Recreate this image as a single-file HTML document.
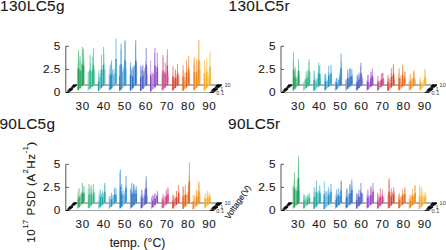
<!DOCTYPE html>
<html><head><meta charset="utf-8"><style>
html,body{margin:0;padding:0;background:#fff;}
body{width:446px;height:250px;overflow:hidden;position:relative;font-family:"Liberation Sans", sans-serif;}
</style></head><body>
<svg width="446" height="250" viewBox="0 0 446 250" style="position:absolute;left:0;top:0">
<style>.t{font-family:"Liberation Sans",sans-serif;fill:#1a1a1a;stroke:#1a1a1a;stroke-width:0.1px;}.v{font-family:"Liberation Sans",sans-serif;fill:#1a1a1a;stroke:#1a1a1a;stroke-width:0.12px;}.s{font-family:"Liberation Sans",sans-serif;fill:#3a3a3a;}</style>
<line x1="73.3" y1="85.0" x2="221.8" y2="85.0" stroke="#666" stroke-width="0.9"/>
<polygon points="77.00,91.30 77.00,63.13 77.50,62.63 77.50,61.50 78.00,61.00 78.00,50.80 78.50,50.30 78.50,50.30 79.00,49.80 79.00,62.21 79.50,61.71 79.50,56.60 80.00,56.10 80.00,56.10 80.50,55.60 80.50,60.62 81.00,60.12 81.00,61.61 81.50,61.11 81.50,62.77 82.00,62.27 82.00,47.30 82.50,46.80 82.50,46.80 83.00,46.30 83.00,49.70 83.50,49.20 83.50,49.20 84.00,48.70 84.00,61.84 84.50,61.34 84.50,83.80" fill="#aee2c4" fill-opacity="0.8" stroke="none"/>
<line x1="77.75" y1="90.55" x2="77.75" y2="69.23" stroke="#27a55c" stroke-width="0.8" stroke-opacity="0.6"/>
<line x1="78.75" y1="89.55" x2="78.75" y2="58.25" stroke="#27a55c" stroke-width="0.8" stroke-opacity="0.6"/>
<line x1="79.75" y1="88.55" x2="79.75" y2="69.34" stroke="#27a55c" stroke-width="0.8" stroke-opacity="0.6"/>
<line x1="80.75" y1="87.55" x2="80.75" y2="71.26" stroke="#27a55c" stroke-width="0.8" stroke-opacity="0.6"/>
<line x1="81.75" y1="86.55" x2="81.75" y2="70.59" stroke="#27a55c" stroke-width="0.8" stroke-opacity="0.6"/>
<line x1="82.75" y1="85.55" x2="82.75" y2="52.50" stroke="#27a55c" stroke-width="0.8" stroke-opacity="0.6"/>
<line x1="83.75" y1="84.55" x2="83.75" y2="58.02" stroke="#27a55c" stroke-width="0.8" stroke-opacity="0.6"/>
<line x1="78.50" y1="89.80" x2="78.50" y2="50.30" stroke="#64c08b" stroke-width="0.7"/>
<line x1="78.50" y1="89.80" x2="78.50" y2="68.07" stroke="#27a55c" stroke-width="1.3"/>
<line x1="80.10" y1="88.20" x2="80.10" y2="56.00" stroke="#64c08b" stroke-width="0.7"/>
<line x1="80.10" y1="88.20" x2="80.10" y2="70.49" stroke="#27a55c" stroke-width="1.3"/>
<line x1="82.30" y1="86.00" x2="82.30" y2="47.00" stroke="#64c08b" stroke-width="0.7"/>
<line x1="82.30" y1="86.00" x2="82.30" y2="64.55" stroke="#27a55c" stroke-width="1.3"/>
<line x1="83.50" y1="84.80" x2="83.50" y2="49.20" stroke="#64c08b" stroke-width="0.7"/>
<line x1="83.50" y1="84.80" x2="83.50" y2="65.22" stroke="#27a55c" stroke-width="1.3"/>
<polygon points="87.55,91.30 87.55,72.78 88.05,72.28 88.05,71.42 88.55,70.92 88.55,72.08 89.05,71.58 89.05,70.38 89.55,69.88 89.55,55.45 90.05,54.95 90.05,54.95 90.55,54.45 90.55,70.00 91.05,69.50 91.05,70.70 91.55,70.20 91.55,72.72 92.05,72.22 92.05,57.35 92.55,56.85 92.55,56.85 93.05,56.35 93.05,48.45 93.55,47.95 93.55,47.95 94.05,47.45 94.05,68.34 94.55,67.84 94.55,69.71 95.05,69.21 95.05,83.80" fill="#b2e8d2" fill-opacity="0.8" stroke="none"/>
<line x1="88.30" y1="90.55" x2="88.30" y2="72.32" stroke="#34b888" stroke-width="0.8" stroke-opacity="0.6"/>
<line x1="89.30" y1="89.55" x2="89.30" y2="70.42" stroke="#34b888" stroke-width="0.8" stroke-opacity="0.6"/>
<line x1="90.30" y1="88.55" x2="90.30" y2="62.63" stroke="#34b888" stroke-width="0.8" stroke-opacity="0.6"/>
<line x1="91.30" y1="87.55" x2="91.30" y2="72.63" stroke="#34b888" stroke-width="0.8" stroke-opacity="0.6"/>
<line x1="92.30" y1="86.55" x2="92.30" y2="68.95" stroke="#34b888" stroke-width="0.8" stroke-opacity="0.6"/>
<line x1="93.30" y1="85.55" x2="93.30" y2="53.53" stroke="#34b888" stroke-width="0.8" stroke-opacity="0.6"/>
<line x1="94.30" y1="84.55" x2="94.30" y2="70.27" stroke="#34b888" stroke-width="0.8" stroke-opacity="0.6"/>
<line x1="90.20" y1="88.65" x2="90.20" y2="54.80" stroke="#6dcea9" stroke-width="0.7"/>
<line x1="90.20" y1="88.65" x2="90.20" y2="70.03" stroke="#34b888" stroke-width="1.3"/>
<line x1="92.40" y1="86.45" x2="92.40" y2="57.00" stroke="#6dcea9" stroke-width="0.7"/>
<line x1="92.40" y1="86.45" x2="92.40" y2="70.25" stroke="#34b888" stroke-width="1.3"/>
<line x1="93.50" y1="85.35" x2="93.50" y2="48.00" stroke="#6dcea9" stroke-width="0.7"/>
<line x1="93.50" y1="85.35" x2="93.50" y2="64.81" stroke="#34b888" stroke-width="1.3"/>
<polygon points="98.10,91.30 98.10,69.38 98.60,68.88 98.60,70.24 99.10,69.74 99.10,72.93 99.60,72.43 99.60,71.01 100.10,70.51 100.10,73.51 100.60,73.01 100.60,72.15 101.10,71.65 101.10,55.10 101.60,54.60 101.60,54.60 102.10,54.10 102.10,69.41 102.60,68.91 102.60,65.63 103.10,65.13 103.10,47.50 103.60,47.00 103.60,47.00 104.10,46.50 104.10,70.69 104.60,70.19 104.60,63.62 105.10,63.12 105.10,69.56 105.60,69.06 105.60,83.80" fill="#ace2e2" fill-opacity="0.8" stroke="none"/>
<line x1="98.85" y1="90.55" x2="98.85" y2="77.27" stroke="#26a6a6" stroke-width="0.8" stroke-opacity="0.6"/>
<line x1="99.85" y1="89.55" x2="99.85" y2="77.14" stroke="#26a6a6" stroke-width="0.8" stroke-opacity="0.6"/>
<line x1="100.85" y1="88.55" x2="100.85" y2="77.08" stroke="#26a6a6" stroke-width="0.8" stroke-opacity="0.6"/>
<line x1="101.85" y1="87.55" x2="101.85" y2="65.42" stroke="#26a6a6" stroke-width="0.8" stroke-opacity="0.6"/>
<line x1="102.85" y1="86.55" x2="102.85" y2="69.91" stroke="#26a6a6" stroke-width="0.8" stroke-opacity="0.6"/>
<line x1="103.85" y1="85.55" x2="103.85" y2="54.12" stroke="#26a6a6" stroke-width="0.8" stroke-opacity="0.6"/>
<line x1="104.85" y1="84.55" x2="104.85" y2="69.89" stroke="#26a6a6" stroke-width="0.8" stroke-opacity="0.6"/>
<line x1="98.50" y1="90.90" x2="98.50" y2="73.90" stroke="#62c1c1" stroke-width="0.7"/>
<line x1="98.50" y1="90.90" x2="98.50" y2="81.55" stroke="#26a6a6" stroke-width="1.3"/>
<line x1="101.40" y1="88.00" x2="101.40" y2="54.80" stroke="#62c1c1" stroke-width="0.7"/>
<line x1="101.40" y1="88.00" x2="101.40" y2="69.74" stroke="#26a6a6" stroke-width="1.3"/>
<line x1="103.60" y1="85.80" x2="103.60" y2="47.00" stroke="#62c1c1" stroke-width="0.7"/>
<line x1="103.60" y1="85.80" x2="103.60" y2="64.46" stroke="#26a6a6" stroke-width="1.3"/>
<polygon points="108.65,91.30 108.65,69.73 109.15,69.23 109.15,67.90 109.65,67.40 109.65,64.98 110.15,64.48 110.15,65.25 110.65,64.75 110.65,64.75 111.15,64.25 111.15,60.75 111.65,60.25 111.65,60.25 112.15,59.75 112.15,67.79 112.65,67.29 112.65,69.23 113.15,68.73 113.15,69.44 113.65,68.94 113.65,69.41 114.15,68.91 114.15,68.71 114.65,68.21 114.65,68.05 115.15,67.55 115.15,69.75 115.65,69.25 115.65,38.85 116.15,38.35 116.15,83.80" fill="#acdaf2" fill-opacity="0.8" stroke="none"/>
<line x1="109.40" y1="90.55" x2="109.40" y2="73.79" stroke="#2896c6" stroke-width="0.8" stroke-opacity="0.6"/>
<line x1="110.40" y1="89.55" x2="110.40" y2="75.12" stroke="#2896c6" stroke-width="0.8" stroke-opacity="0.6"/>
<line x1="111.40" y1="88.55" x2="111.40" y2="62.23" stroke="#2896c6" stroke-width="0.8" stroke-opacity="0.6"/>
<line x1="112.40" y1="87.55" x2="112.40" y2="70.67" stroke="#2896c6" stroke-width="0.8" stroke-opacity="0.6"/>
<line x1="113.40" y1="86.55" x2="113.40" y2="75.24" stroke="#2896c6" stroke-width="0.8" stroke-opacity="0.6"/>
<line x1="114.40" y1="85.55" x2="114.40" y2="73.64" stroke="#2896c6" stroke-width="0.8" stroke-opacity="0.6"/>
<line x1="115.40" y1="84.55" x2="115.40" y2="73.35" stroke="#2896c6" stroke-width="0.8" stroke-opacity="0.6"/>
<line x1="110.40" y1="89.55" x2="110.40" y2="65.00" stroke="#63b5da" stroke-width="0.7"/>
<line x1="110.40" y1="89.55" x2="110.40" y2="76.05" stroke="#2896c6" stroke-width="1.3"/>
<line x1="111.50" y1="88.45" x2="111.50" y2="60.40" stroke="#63b5da" stroke-width="0.7"/>
<line x1="111.50" y1="88.45" x2="111.50" y2="73.02" stroke="#2896c6" stroke-width="1.3"/>
<line x1="116.00" y1="83.95" x2="116.00" y2="38.50" stroke="#63b5da" stroke-width="0.7"/>
<line x1="116.00" y1="83.95" x2="116.00" y2="58.95" stroke="#2896c6" stroke-width="1.3"/>
<polygon points="119.20,91.30 119.20,65.60 119.70,65.10 119.70,65.10 120.20,64.60 120.20,64.78 120.70,64.28 120.70,44.00 121.20,43.50 121.20,43.50 121.70,43.00 121.70,64.62 122.20,64.12 122.20,68.94 122.70,68.44 122.70,65.00 123.20,64.50 123.20,67.11 123.70,66.61 123.70,67.03 124.20,66.53 124.20,59.95 124.70,59.45 124.70,40.50 125.20,40.00 125.20,40.00 125.70,39.50 125.70,68.41 126.20,67.91 126.20,61.31 126.70,60.81 126.70,83.80" fill="#acd2f2" fill-opacity="0.8" stroke="none"/>
<line x1="119.95" y1="90.55" x2="119.95" y2="70.02" stroke="#2a86c6" stroke-width="0.8" stroke-opacity="0.6"/>
<line x1="120.95" y1="89.55" x2="120.95" y2="49.05" stroke="#2a86c6" stroke-width="0.8" stroke-opacity="0.6"/>
<line x1="121.95" y1="88.55" x2="121.95" y2="71.24" stroke="#2a86c6" stroke-width="0.8" stroke-opacity="0.6"/>
<line x1="122.95" y1="87.55" x2="122.95" y2="72.21" stroke="#2a86c6" stroke-width="0.8" stroke-opacity="0.6"/>
<line x1="123.95" y1="86.55" x2="123.95" y2="68.21" stroke="#2a86c6" stroke-width="0.8" stroke-opacity="0.6"/>
<line x1="124.95" y1="85.55" x2="124.95" y2="41.66" stroke="#2a86c6" stroke-width="0.8" stroke-opacity="0.6"/>
<line x1="125.95" y1="84.55" x2="125.95" y2="68.87" stroke="#2a86c6" stroke-width="0.8" stroke-opacity="0.6"/>
<line x1="119.80" y1="90.70" x2="119.80" y2="65.00" stroke="#64a8da" stroke-width="0.7"/>
<line x1="119.80" y1="90.70" x2="119.80" y2="76.56" stroke="#2a86c6" stroke-width="1.3"/>
<line x1="121.10" y1="89.40" x2="121.10" y2="43.60" stroke="#64a8da" stroke-width="0.7"/>
<line x1="121.10" y1="89.40" x2="121.10" y2="64.21" stroke="#2a86c6" stroke-width="1.3"/>
<line x1="125.00" y1="85.50" x2="125.00" y2="40.20" stroke="#64a8da" stroke-width="0.7"/>
<line x1="125.00" y1="85.50" x2="125.00" y2="60.59" stroke="#2a86c6" stroke-width="1.3"/>
<polygon points="129.75,91.30 129.75,63.45 130.25,62.95 130.25,62.95 130.75,62.45 130.75,62.45 131.25,61.95 131.25,68.62 131.75,68.12 131.75,69.61 132.25,69.11 132.25,67.55 132.75,67.05 132.75,66.29 133.25,65.79 133.25,64.97 133.75,64.47 133.75,65.06 134.25,64.56 134.25,64.97 134.75,64.47 134.75,68.65 135.25,68.15 135.25,40.65 135.75,40.15 135.75,40.15 136.25,39.65 136.25,59.81 136.75,59.31 136.75,65.55 137.25,65.05 137.25,83.80" fill="#b2cef2" fill-opacity="0.8" stroke="none"/>
<line x1="130.50" y1="90.55" x2="130.50" y2="66.98" stroke="#2e76c0" stroke-width="0.8" stroke-opacity="0.6"/>
<line x1="131.50" y1="89.55" x2="131.50" y2="70.08" stroke="#2e76c0" stroke-width="0.8" stroke-opacity="0.6"/>
<line x1="132.50" y1="88.55" x2="132.50" y2="75.44" stroke="#2e76c0" stroke-width="0.8" stroke-opacity="0.6"/>
<line x1="133.50" y1="87.55" x2="133.50" y2="67.98" stroke="#2e76c0" stroke-width="0.8" stroke-opacity="0.6"/>
<line x1="134.50" y1="86.55" x2="134.50" y2="65.51" stroke="#2e76c0" stroke-width="0.8" stroke-opacity="0.6"/>
<line x1="135.50" y1="85.55" x2="135.50" y2="45.55" stroke="#2e76c0" stroke-width="0.8" stroke-opacity="0.6"/>
<line x1="136.50" y1="84.55" x2="136.50" y2="62.28" stroke="#2e76c0" stroke-width="0.8" stroke-opacity="0.6"/>
<line x1="130.50" y1="90.55" x2="130.50" y2="62.70" stroke="#699ed6" stroke-width="0.7"/>
<line x1="130.50" y1="90.55" x2="130.50" y2="75.23" stroke="#2e76c0" stroke-width="1.3"/>
<line x1="132.80" y1="88.25" x2="132.80" y2="67.00" stroke="#699ed6" stroke-width="0.7"/>
<line x1="132.80" y1="88.25" x2="132.80" y2="76.56" stroke="#2e76c0" stroke-width="1.3"/>
<line x1="135.70" y1="85.35" x2="135.70" y2="40.20" stroke="#699ed6" stroke-width="0.7"/>
<line x1="135.70" y1="85.35" x2="135.70" y2="60.52" stroke="#2e76c0" stroke-width="1.3"/>
<polygon points="140.30,91.30 140.30,66.30 140.80,65.80 140.80,65.80 141.30,65.30 141.30,67.80 141.80,67.30 141.80,66.89 142.30,66.39 142.30,65.60 142.80,65.10 142.80,65.10 143.30,64.60 143.30,70.90 143.80,70.40 143.80,70.99 144.30,70.49 144.30,67.72 144.80,67.22 144.80,67.18 145.30,66.68 145.30,66.85 145.80,66.35 145.80,48.40 146.30,47.90 146.30,47.90 146.80,47.40 146.80,71.10 147.30,70.60 147.30,66.90 147.80,66.40 147.80,83.80" fill="#c4c6f2" fill-opacity="0.8" stroke="none"/>
<line x1="141.05" y1="90.55" x2="141.05" y2="70.62" stroke="#4e5ec0" stroke-width="0.8" stroke-opacity="0.6"/>
<line x1="142.05" y1="89.55" x2="142.05" y2="67.29" stroke="#4e5ec0" stroke-width="0.8" stroke-opacity="0.6"/>
<line x1="143.05" y1="88.55" x2="143.05" y2="70.53" stroke="#4e5ec0" stroke-width="0.8" stroke-opacity="0.6"/>
<line x1="144.05" y1="87.55" x2="144.05" y2="71.37" stroke="#4e5ec0" stroke-width="0.8" stroke-opacity="0.6"/>
<line x1="145.05" y1="86.55" x2="145.05" y2="68.22" stroke="#4e5ec0" stroke-width="0.8" stroke-opacity="0.6"/>
<line x1="146.05" y1="85.55" x2="146.05" y2="61.06" stroke="#4e5ec0" stroke-width="0.8" stroke-opacity="0.6"/>
<line x1="147.05" y1="84.55" x2="147.05" y2="74.85" stroke="#4e5ec0" stroke-width="0.8" stroke-opacity="0.6"/>
<line x1="140.60" y1="91.00" x2="140.60" y2="66.00" stroke="#838dd6" stroke-width="0.7"/>
<line x1="140.60" y1="91.00" x2="140.60" y2="77.25" stroke="#4e5ec0" stroke-width="1.3"/>
<line x1="142.90" y1="88.70" x2="142.90" y2="65.00" stroke="#838dd6" stroke-width="0.7"/>
<line x1="142.90" y1="88.70" x2="142.90" y2="75.67" stroke="#4e5ec0" stroke-width="1.3"/>
<line x1="146.20" y1="85.40" x2="146.20" y2="48.00" stroke="#838dd6" stroke-width="0.7"/>
<line x1="146.20" y1="85.40" x2="146.20" y2="64.83" stroke="#4e5ec0" stroke-width="1.3"/>
<polygon points="150.85,91.30 150.85,72.89 151.35,72.39 151.35,71.42 151.85,70.92 151.85,72.25 152.35,71.75 152.35,69.80 152.85,69.30 152.85,72.58 153.35,72.08 153.35,71.67 153.85,71.17 153.85,69.83 154.35,69.33 154.35,48.65 154.85,48.15 154.85,48.15 155.35,47.65 155.35,70.52 155.85,70.02 155.85,71.20 156.35,70.70 156.35,69.28 156.85,68.78 156.85,53.05 157.35,52.55 157.35,52.55 157.85,52.05 157.85,70.62 158.35,70.12 158.35,83.80" fill="#dec4f2" fill-opacity="0.8" stroke="none"/>
<line x1="151.60" y1="90.55" x2="151.60" y2="76.55" stroke="#9046c8" stroke-width="0.8" stroke-opacity="0.6"/>
<line x1="152.60" y1="89.55" x2="152.60" y2="73.49" stroke="#9046c8" stroke-width="0.8" stroke-opacity="0.6"/>
<line x1="153.60" y1="88.55" x2="153.60" y2="74.40" stroke="#9046c8" stroke-width="0.8" stroke-opacity="0.6"/>
<line x1="154.60" y1="87.55" x2="154.60" y2="52.70" stroke="#9046c8" stroke-width="0.8" stroke-opacity="0.6"/>
<line x1="155.60" y1="86.55" x2="155.60" y2="76.19" stroke="#9046c8" stroke-width="0.8" stroke-opacity="0.6"/>
<line x1="156.60" y1="85.55" x2="156.60" y2="71.83" stroke="#9046c8" stroke-width="0.8" stroke-opacity="0.6"/>
<line x1="157.60" y1="84.55" x2="157.60" y2="62.83" stroke="#9046c8" stroke-width="0.8" stroke-opacity="0.6"/>
<line x1="150.60" y1="91.55" x2="150.60" y2="60.40" stroke="#b37fdb" stroke-width="0.7"/>
<line x1="150.60" y1="91.55" x2="150.60" y2="74.42" stroke="#9046c8" stroke-width="1.3"/>
<line x1="155.00" y1="87.15" x2="155.00" y2="48.00" stroke="#b37fdb" stroke-width="0.7"/>
<line x1="155.00" y1="87.15" x2="155.00" y2="65.62" stroke="#9046c8" stroke-width="1.3"/>
<line x1="157.30" y1="84.85" x2="157.30" y2="52.60" stroke="#b37fdb" stroke-width="0.7"/>
<line x1="157.30" y1="84.85" x2="157.30" y2="67.11" stroke="#9046c8" stroke-width="1.3"/>
<polygon points="161.40,91.30 161.40,72.97 161.90,72.47 161.90,71.81 162.40,71.31 162.40,55.40 162.90,54.90 162.90,54.90 163.40,54.40 163.40,72.13 163.90,71.63 163.90,71.79 164.40,71.29 164.40,71.68 164.90,71.18 164.90,63.00 165.40,62.50 165.40,62.50 165.90,62.00 165.90,69.97 166.40,69.47 166.40,67.21 166.90,66.71 166.90,49.70 167.40,49.20 167.40,49.20 167.90,48.70 167.90,72.14 168.40,71.64 168.40,73.15 168.90,72.65 168.90,83.80" fill="#f2c4d6" fill-opacity="0.8" stroke="none"/>
<line x1="162.15" y1="90.55" x2="162.15" y2="74.04" stroke="#c84686" stroke-width="0.8" stroke-opacity="0.6"/>
<line x1="163.15" y1="89.55" x2="163.15" y2="58.37" stroke="#c84686" stroke-width="0.8" stroke-opacity="0.6"/>
<line x1="164.15" y1="88.55" x2="164.15" y2="72.00" stroke="#c84686" stroke-width="0.8" stroke-opacity="0.6"/>
<line x1="165.15" y1="87.55" x2="165.15" y2="71.64" stroke="#c84686" stroke-width="0.8" stroke-opacity="0.6"/>
<line x1="166.15" y1="86.55" x2="166.15" y2="71.47" stroke="#c84686" stroke-width="0.8" stroke-opacity="0.6"/>
<line x1="167.15" y1="85.55" x2="167.15" y2="55.18" stroke="#c84686" stroke-width="0.8" stroke-opacity="0.6"/>
<line x1="168.15" y1="84.55" x2="168.15" y2="76.13" stroke="#c84686" stroke-width="0.8" stroke-opacity="0.6"/>
<line x1="163.00" y1="89.70" x2="163.00" y2="54.80" stroke="#db7faa" stroke-width="0.7"/>
<line x1="163.00" y1="89.70" x2="163.00" y2="70.50" stroke="#c84686" stroke-width="1.3"/>
<line x1="165.20" y1="87.50" x2="165.20" y2="62.70" stroke="#db7faa" stroke-width="0.7"/>
<line x1="165.20" y1="87.50" x2="165.20" y2="73.86" stroke="#c84686" stroke-width="1.3"/>
<line x1="167.40" y1="85.30" x2="167.40" y2="49.20" stroke="#db7faa" stroke-width="0.7"/>
<line x1="167.40" y1="85.30" x2="167.40" y2="65.44" stroke="#c84686" stroke-width="1.3"/>
<polygon points="171.95,91.30 171.95,74.34 172.45,73.84 172.45,66.55 172.95,66.05 172.95,66.05 173.45,65.55 173.45,76.76 173.95,76.26 173.95,73.80 174.45,73.30 174.45,76.59 174.95,76.09 174.95,69.75 175.45,69.25 175.45,69.25 175.95,68.75 175.95,77.16 176.45,76.66 176.45,75.98 176.95,75.48 176.95,64.35 177.45,63.85 177.45,63.85 177.95,63.35 177.95,76.19 178.45,75.69 178.45,73.82 178.95,73.32 178.95,73.89 179.45,73.39 179.45,83.80" fill="#f8c4b4" fill-opacity="0.8" stroke="none"/>
<line x1="172.70" y1="90.55" x2="172.70" y2="75.49" stroke="#d84836" stroke-width="0.8" stroke-opacity="0.6"/>
<line x1="173.70" y1="89.55" x2="173.70" y2="80.20" stroke="#d84836" stroke-width="0.8" stroke-opacity="0.6"/>
<line x1="174.70" y1="88.55" x2="174.70" y2="80.96" stroke="#d84836" stroke-width="0.8" stroke-opacity="0.6"/>
<line x1="175.70" y1="87.55" x2="175.70" y2="70.53" stroke="#d84836" stroke-width="0.8" stroke-opacity="0.6"/>
<line x1="176.70" y1="86.55" x2="176.70" y2="78.64" stroke="#d84836" stroke-width="0.8" stroke-opacity="0.6"/>
<line x1="177.70" y1="85.55" x2="177.70" y2="71.62" stroke="#d84836" stroke-width="0.8" stroke-opacity="0.6"/>
<line x1="178.70" y1="84.55" x2="178.70" y2="75.80" stroke="#d84836" stroke-width="0.8" stroke-opacity="0.6"/>
<line x1="173.00" y1="90.25" x2="173.00" y2="66.00" stroke="#e6806f" stroke-width="0.7"/>
<line x1="173.00" y1="90.25" x2="173.00" y2="76.91" stroke="#d84836" stroke-width="1.3"/>
<line x1="175.30" y1="87.95" x2="175.30" y2="69.40" stroke="#e6806f" stroke-width="0.7"/>
<line x1="175.30" y1="87.95" x2="175.30" y2="77.75" stroke="#d84836" stroke-width="1.3"/>
<line x1="177.50" y1="85.75" x2="177.50" y2="63.80" stroke="#e6806f" stroke-width="0.7"/>
<line x1="177.50" y1="85.75" x2="177.50" y2="73.68" stroke="#d84836" stroke-width="1.3"/>
<polygon points="182.50,91.30 182.50,65.60 183.00,65.10 183.00,65.10 183.50,64.60 183.50,75.46 184.00,74.96 184.00,72.15 184.50,71.65 184.50,73.25 185.00,72.75 185.00,76.30 185.50,75.80 185.50,73.31 186.00,72.81 186.00,60.90 186.50,60.40 186.50,60.40 187.00,59.90 187.00,73.09 187.50,72.59 187.50,70.78 188.00,70.28 188.00,56.70 188.50,56.20 188.50,56.20 189.00,55.70 189.00,68.60 189.50,68.10 189.50,75.41 190.00,74.91 190.00,83.80" fill="#f8cca4" fill-opacity="0.8" stroke="none"/>
<line x1="183.25" y1="90.55" x2="183.25" y2="70.09" stroke="#e66a1e" stroke-width="0.8" stroke-opacity="0.6"/>
<line x1="184.25" y1="89.55" x2="184.25" y2="77.39" stroke="#e66a1e" stroke-width="0.8" stroke-opacity="0.6"/>
<line x1="185.25" y1="88.55" x2="185.25" y2="80.42" stroke="#e66a1e" stroke-width="0.8" stroke-opacity="0.6"/>
<line x1="186.25" y1="87.55" x2="186.25" y2="70.28" stroke="#e66a1e" stroke-width="0.8" stroke-opacity="0.6"/>
<line x1="187.25" y1="86.55" x2="187.25" y2="78.05" stroke="#e66a1e" stroke-width="0.8" stroke-opacity="0.6"/>
<line x1="188.25" y1="85.55" x2="188.25" y2="66.44" stroke="#e66a1e" stroke-width="0.8" stroke-opacity="0.6"/>
<line x1="189.25" y1="84.55" x2="189.25" y2="72.81" stroke="#e66a1e" stroke-width="0.8" stroke-opacity="0.6"/>
<line x1="183.10" y1="90.70" x2="183.10" y2="65.00" stroke="#ee965a" stroke-width="0.7"/>
<line x1="183.10" y1="90.70" x2="183.10" y2="76.56" stroke="#e66a1e" stroke-width="1.3"/>
<line x1="186.50" y1="87.30" x2="186.50" y2="60.40" stroke="#ee965a" stroke-width="0.7"/>
<line x1="186.50" y1="87.30" x2="186.50" y2="72.50" stroke="#e66a1e" stroke-width="1.3"/>
<line x1="188.70" y1="85.10" x2="188.70" y2="56.00" stroke="#ee965a" stroke-width="0.7"/>
<line x1="188.70" y1="85.10" x2="188.70" y2="69.09" stroke="#e66a1e" stroke-width="1.3"/>
<polygon points="193.05,91.30 193.05,72.82 193.55,72.32 193.55,57.75 194.05,57.25 194.05,57.25 194.55,56.75 194.55,56.75 195.05,56.25 195.05,72.61 195.55,72.11 195.55,72.65 196.05,72.15 196.05,59.85 196.55,59.35 196.55,59.35 197.05,58.85 197.05,63.52 197.55,63.02 197.55,62.76 198.05,62.26 198.05,40.95 198.55,40.45 198.55,40.45 199.05,39.95 199.05,39.95 199.55,39.45 199.55,68.78 200.05,68.28 200.05,62.35 200.55,61.85 200.55,83.80" fill="#fad6a4" fill-opacity="0.8" stroke="none"/>
<line x1="193.80" y1="90.55" x2="193.80" y2="63.00" stroke="#f08c1e" stroke-width="0.8" stroke-opacity="0.6"/>
<line x1="194.80" y1="89.55" x2="194.80" y2="65.17" stroke="#f08c1e" stroke-width="0.8" stroke-opacity="0.6"/>
<line x1="195.80" y1="88.55" x2="195.80" y2="76.60" stroke="#f08c1e" stroke-width="0.8" stroke-opacity="0.6"/>
<line x1="196.80" y1="87.55" x2="196.80" y2="70.60" stroke="#f08c1e" stroke-width="0.8" stroke-opacity="0.6"/>
<line x1="197.80" y1="86.55" x2="197.80" y2="71.36" stroke="#f08c1e" stroke-width="0.8" stroke-opacity="0.6"/>
<line x1="198.80" y1="85.55" x2="198.80" y2="58.63" stroke="#f08c1e" stroke-width="0.8" stroke-opacity="0.6"/>
<line x1="199.80" y1="84.55" x2="199.80" y2="69.97" stroke="#f08c1e" stroke-width="0.8" stroke-opacity="0.6"/>
<line x1="194.30" y1="90.05" x2="194.30" y2="57.00" stroke="#f4ad5a" stroke-width="0.7"/>
<line x1="194.30" y1="90.05" x2="194.30" y2="71.87" stroke="#f08c1e" stroke-width="1.3"/>
<line x1="196.60" y1="87.75" x2="196.60" y2="59.30" stroke="#f4ad5a" stroke-width="0.7"/>
<line x1="196.60" y1="87.75" x2="196.60" y2="72.10" stroke="#f08c1e" stroke-width="1.3"/>
<line x1="198.80" y1="85.55" x2="198.80" y2="40.20" stroke="#f4ad5a" stroke-width="0.7"/>
<line x1="198.80" y1="85.55" x2="198.80" y2="60.61" stroke="#f08c1e" stroke-width="1.3"/>
<polygon points="203.60,91.30 203.60,73.07 204.10,72.57 204.10,60.70 204.60,60.20 204.60,60.20 205.10,59.70 205.10,70.00 205.60,69.50 205.60,73.14 206.10,72.64 206.10,58.80 206.60,58.30 206.60,58.30 207.10,57.80 207.10,70.70 207.60,70.20 207.60,69.49 208.10,68.99 208.10,73.13 208.60,72.63 208.60,69.52 209.10,69.02 209.10,72.57 209.60,72.07 209.60,51.90 210.10,51.40 210.10,51.40 210.60,50.90 210.60,71.84 211.10,71.34 211.10,83.80" fill="#fce6ac" fill-opacity="0.8" stroke="none"/>
<line x1="204.35" y1="90.55" x2="204.35" y2="67.02" stroke="#f4ae2c" stroke-width="0.8" stroke-opacity="0.6"/>
<line x1="205.35" y1="89.55" x2="205.35" y2="77.96" stroke="#f4ae2c" stroke-width="0.8" stroke-opacity="0.6"/>
<line x1="206.35" y1="88.55" x2="206.35" y2="68.09" stroke="#f4ae2c" stroke-width="0.8" stroke-opacity="0.6"/>
<line x1="207.35" y1="87.55" x2="207.35" y2="76.83" stroke="#f4ae2c" stroke-width="0.8" stroke-opacity="0.6"/>
<line x1="208.35" y1="86.55" x2="208.35" y2="75.99" stroke="#f4ae2c" stroke-width="0.8" stroke-opacity="0.6"/>
<line x1="209.35" y1="85.55" x2="209.35" y2="77.37" stroke="#f4ae2c" stroke-width="0.8" stroke-opacity="0.6"/>
<line x1="210.35" y1="84.55" x2="210.35" y2="65.21" stroke="#f4ae2c" stroke-width="0.8" stroke-opacity="0.6"/>
<line x1="204.40" y1="90.50" x2="204.40" y2="60.40" stroke="#f8c766" stroke-width="0.7"/>
<line x1="204.40" y1="90.50" x2="204.40" y2="73.95" stroke="#f4ae2c" stroke-width="1.3"/>
<line x1="206.70" y1="88.20" x2="206.70" y2="58.20" stroke="#f8c766" stroke-width="0.7"/>
<line x1="206.70" y1="88.20" x2="206.70" y2="71.70" stroke="#f4ae2c" stroke-width="1.3"/>
<line x1="210.00" y1="84.90" x2="210.00" y2="51.50" stroke="#f8c766" stroke-width="0.7"/>
<line x1="210.00" y1="84.90" x2="210.00" y2="66.53" stroke="#f4ae2c" stroke-width="1.3"/>
<line x1="73.3" y1="85.0" x2="221.8" y2="85.0" stroke="#555" stroke-width="0.8" stroke-opacity="0.2"/>
<line x1="65.8" y1="92.5" x2="214.3" y2="92.5" stroke="#aaa" stroke-width="1"/>
<line x1="65.8" y1="92.5" x2="65.8" y2="46.3" stroke="#555" stroke-width="1"/>
<line x1="65.8" y1="92.5" x2="68.8" y2="92.5" stroke="#555" stroke-width="1"/>
<line x1="65.8" y1="69.4" x2="68.8" y2="69.4" stroke="#555" stroke-width="1"/>
<line x1="65.8" y1="46.3" x2="68.8" y2="46.3" stroke="#555" stroke-width="1"/>
<line x1="65.80" y1="92.50" x2="69.40" y2="92.50" stroke="#000" stroke-width="0.8"/>
<line x1="214.30" y1="92.50" x2="209.50" y2="92.50" stroke="#000" stroke-width="0.8"/>
<line x1="66.93" y1="91.37" x2="70.53" y2="91.37" stroke="#000" stroke-width="0.8"/>
<line x1="215.43" y1="91.37" x2="210.63" y2="91.37" stroke="#000" stroke-width="0.8"/>
<line x1="67.59" y1="90.71" x2="71.19" y2="90.71" stroke="#000" stroke-width="0.8"/>
<line x1="216.09" y1="90.71" x2="211.29" y2="90.71" stroke="#000" stroke-width="0.8"/>
<line x1="68.06" y1="90.24" x2="71.66" y2="90.24" stroke="#000" stroke-width="0.8"/>
<line x1="216.56" y1="90.24" x2="211.76" y2="90.24" stroke="#000" stroke-width="0.8"/>
<line x1="68.42" y1="89.88" x2="72.02" y2="89.88" stroke="#000" stroke-width="0.8"/>
<line x1="216.92" y1="89.88" x2="212.12" y2="89.88" stroke="#000" stroke-width="0.8"/>
<line x1="68.72" y1="89.58" x2="72.32" y2="89.58" stroke="#000" stroke-width="0.8"/>
<line x1="217.22" y1="89.58" x2="212.42" y2="89.58" stroke="#000" stroke-width="0.8"/>
<line x1="68.97" y1="89.33" x2="72.57" y2="89.33" stroke="#000" stroke-width="0.8"/>
<line x1="217.47" y1="89.33" x2="212.67" y2="89.33" stroke="#000" stroke-width="0.8"/>
<line x1="69.19" y1="89.11" x2="72.79" y2="89.11" stroke="#000" stroke-width="0.8"/>
<line x1="217.69" y1="89.11" x2="212.89" y2="89.11" stroke="#000" stroke-width="0.8"/>
<line x1="69.38" y1="88.92" x2="72.98" y2="88.92" stroke="#000" stroke-width="0.8"/>
<line x1="217.88" y1="88.92" x2="213.08" y2="88.92" stroke="#000" stroke-width="0.8"/>
<line x1="69.55" y1="88.75" x2="73.15" y2="88.75" stroke="#000" stroke-width="0.8"/>
<line x1="218.05" y1="88.75" x2="213.25" y2="88.75" stroke="#000" stroke-width="0.8"/>
<line x1="70.68" y1="87.62" x2="74.28" y2="87.62" stroke="#000" stroke-width="0.8"/>
<line x1="219.18" y1="87.62" x2="214.38" y2="87.62" stroke="#000" stroke-width="0.8"/>
<line x1="71.34" y1="86.96" x2="74.94" y2="86.96" stroke="#000" stroke-width="0.8"/>
<line x1="219.84" y1="86.96" x2="215.04" y2="86.96" stroke="#000" stroke-width="0.8"/>
<line x1="71.81" y1="86.49" x2="75.41" y2="86.49" stroke="#000" stroke-width="0.8"/>
<line x1="220.31" y1="86.49" x2="215.51" y2="86.49" stroke="#000" stroke-width="0.8"/>
<line x1="72.17" y1="86.13" x2="75.77" y2="86.13" stroke="#000" stroke-width="0.8"/>
<line x1="220.67" y1="86.13" x2="215.87" y2="86.13" stroke="#000" stroke-width="0.8"/>
<line x1="72.47" y1="85.83" x2="76.07" y2="85.83" stroke="#000" stroke-width="0.8"/>
<line x1="220.97" y1="85.83" x2="216.17" y2="85.83" stroke="#000" stroke-width="0.8"/>
<line x1="72.72" y1="85.58" x2="76.32" y2="85.58" stroke="#000" stroke-width="0.8"/>
<line x1="221.22" y1="85.58" x2="216.42" y2="85.58" stroke="#000" stroke-width="0.8"/>
<line x1="72.94" y1="85.36" x2="76.54" y2="85.36" stroke="#000" stroke-width="0.8"/>
<line x1="221.44" y1="85.36" x2="216.64" y2="85.36" stroke="#000" stroke-width="0.8"/>
<line x1="73.13" y1="85.17" x2="76.73" y2="85.17" stroke="#000" stroke-width="0.8"/>
<line x1="221.63" y1="85.17" x2="216.83" y2="85.17" stroke="#000" stroke-width="0.8"/>
<line x1="73.30" y1="85.00" x2="76.90" y2="85.00" stroke="#000" stroke-width="0.8"/>
<line x1="221.80" y1="85.00" x2="217.00" y2="85.00" stroke="#000" stroke-width="0.8"/>
<text class="t" x="60.699999999999996" y="96.2" text-anchor="end" font-size="11.8" letter-spacing="0.4">0</text>
<text class="t" x="60.699999999999996" y="73.10000000000001" text-anchor="end" font-size="11.8" letter-spacing="0.4">2.5</text>
<text class="t" x="60.699999999999996" y="50.0" text-anchor="end" font-size="11.8" letter-spacing="0.4">5</text>
<text class="t" x="82.7" y="110.0" text-anchor="middle" font-size="11.6" letter-spacing="0.7">30</text>
<text class="t" x="103.8" y="110.0" text-anchor="middle" font-size="11.6" letter-spacing="0.7">40</text>
<text class="t" x="124.9" y="110.0" text-anchor="middle" font-size="11.6" letter-spacing="0.7">50</text>
<text class="t" x="146.0" y="110.0" text-anchor="middle" font-size="11.6" letter-spacing="0.7">60</text>
<text class="t" x="167.1" y="110.0" text-anchor="middle" font-size="11.6" letter-spacing="0.7">70</text>
<text class="t" x="188.2" y="110.0" text-anchor="middle" font-size="11.6" letter-spacing="0.7">80</text>
<text class="t" x="209.3" y="110.0" text-anchor="middle" font-size="11.6" letter-spacing="0.7">90</text>
<text class="s" x="216.30" y="94.90" font-size="5.6">0.1</text>
<text class="s" x="220.35" y="91.00" font-size="5.6">1</text>
<text class="s" x="224.40" y="87.10" font-size="5.6">10</text>
<line x1="288.5" y1="85.0" x2="437.0" y2="85.0" stroke="#666" stroke-width="0.9"/>
<polygon points="292.50,91.30 292.50,78.73 293.00,78.23 293.00,53.10 293.50,52.60 293.50,52.60 294.00,52.10 294.00,71.53 294.50,71.03 294.50,67.50 295.00,67.00 295.00,67.00 295.50,66.50 295.50,77.92 296.00,77.42 296.00,77.03 296.50,76.53 296.50,76.07 297.00,75.57 297.00,75.23 297.50,74.73 297.50,72.97 298.00,72.47 298.00,59.80 298.50,59.30 298.50,59.30 299.00,58.80 299.00,71.25 299.50,70.75 299.50,70.83 300.00,70.33 300.00,83.80" fill="#aee2c4" fill-opacity="0.8" stroke="none"/>
<line x1="293.25" y1="90.55" x2="293.25" y2="60.07" stroke="#27a55c" stroke-width="0.8" stroke-opacity="0.6"/>
<line x1="294.25" y1="89.55" x2="294.25" y2="71.89" stroke="#27a55c" stroke-width="0.8" stroke-opacity="0.6"/>
<line x1="295.25" y1="88.55" x2="295.25" y2="69.62" stroke="#27a55c" stroke-width="0.8" stroke-opacity="0.6"/>
<line x1="296.25" y1="87.55" x2="296.25" y2="77.65" stroke="#27a55c" stroke-width="0.8" stroke-opacity="0.6"/>
<line x1="297.25" y1="86.55" x2="297.25" y2="78.35" stroke="#27a55c" stroke-width="0.8" stroke-opacity="0.6"/>
<line x1="298.25" y1="85.55" x2="298.25" y2="70.25" stroke="#27a55c" stroke-width="0.8" stroke-opacity="0.6"/>
<line x1="299.25" y1="84.55" x2="299.25" y2="75.65" stroke="#27a55c" stroke-width="0.8" stroke-opacity="0.6"/>
<line x1="293.50" y1="90.30" x2="293.50" y2="52.60" stroke="#64c08b" stroke-width="0.7"/>
<line x1="293.50" y1="90.30" x2="293.50" y2="69.56" stroke="#27a55c" stroke-width="1.3"/>
<line x1="295.00" y1="88.80" x2="295.00" y2="67.00" stroke="#64c08b" stroke-width="0.7"/>
<line x1="295.00" y1="88.80" x2="295.00" y2="76.81" stroke="#27a55c" stroke-width="1.3"/>
<line x1="298.50" y1="85.30" x2="298.50" y2="59.30" stroke="#64c08b" stroke-width="0.7"/>
<line x1="298.50" y1="85.30" x2="298.50" y2="71.00" stroke="#27a55c" stroke-width="1.3"/>
<polygon points="303.05,91.30 303.05,80.95 303.55,80.45 303.55,82.23 304.05,81.73 304.05,78.57 304.55,78.07 304.55,79.96 305.05,79.46 305.05,79.62 305.55,79.12 305.55,72.35 306.05,71.85 306.05,71.85 306.55,71.35 306.55,71.35 307.05,70.85 307.05,80.01 307.55,79.51 307.55,69.75 308.05,69.25 308.05,69.25 308.55,68.75 308.55,59.95 309.05,59.45 309.05,59.45 309.55,58.95 309.55,74.70 310.05,74.20 310.05,71.48 310.55,70.98 310.55,83.80" fill="#b2e8d2" fill-opacity="0.8" stroke="none"/>
<line x1="303.80" y1="90.55" x2="303.80" y2="82.76" stroke="#34b888" stroke-width="0.8" stroke-opacity="0.6"/>
<line x1="304.80" y1="89.55" x2="304.80" y2="80.64" stroke="#34b888" stroke-width="0.8" stroke-opacity="0.6"/>
<line x1="305.80" y1="88.55" x2="305.80" y2="78.30" stroke="#34b888" stroke-width="0.8" stroke-opacity="0.6"/>
<line x1="306.80" y1="87.55" x2="306.80" y2="76.80" stroke="#34b888" stroke-width="0.8" stroke-opacity="0.6"/>
<line x1="307.80" y1="86.55" x2="307.80" y2="74.66" stroke="#34b888" stroke-width="0.8" stroke-opacity="0.6"/>
<line x1="308.80" y1="85.55" x2="308.80" y2="62.63" stroke="#34b888" stroke-width="0.8" stroke-opacity="0.6"/>
<line x1="309.80" y1="84.55" x2="309.80" y2="76.96" stroke="#34b888" stroke-width="0.8" stroke-opacity="0.6"/>
<line x1="306.30" y1="88.05" x2="306.30" y2="71.60" stroke="#6dcea9" stroke-width="0.7"/>
<line x1="306.30" y1="88.05" x2="306.30" y2="79.00" stroke="#34b888" stroke-width="1.3"/>
<line x1="307.90" y1="86.45" x2="307.90" y2="69.40" stroke="#6dcea9" stroke-width="0.7"/>
<line x1="307.90" y1="86.45" x2="307.90" y2="77.07" stroke="#34b888" stroke-width="1.3"/>
<line x1="309.20" y1="85.15" x2="309.20" y2="59.30" stroke="#6dcea9" stroke-width="0.7"/>
<line x1="309.20" y1="85.15" x2="309.20" y2="70.93" stroke="#34b888" stroke-width="1.3"/>
<polygon points="313.60,91.30 313.60,71.00 314.10,70.50 314.10,70.50 314.60,70.00 314.60,80.45 315.10,79.95 315.10,77.39 315.60,76.89 315.60,77.37 316.10,76.87 316.10,79.30 316.60,78.80 316.60,78.17 317.10,77.67 317.10,78.43 317.60,77.93 317.60,74.54 318.10,74.04 318.10,63.20 318.60,62.70 318.60,62.70 319.10,62.20 319.10,65.70 319.60,65.20 319.60,65.20 320.10,64.70 320.10,79.11 320.60,78.61 320.60,76.02 321.10,75.52 321.10,83.80" fill="#ace2e2" fill-opacity="0.8" stroke="none"/>
<line x1="314.35" y1="90.55" x2="314.35" y2="73.72" stroke="#26a6a6" stroke-width="0.8" stroke-opacity="0.6"/>
<line x1="315.35" y1="89.55" x2="315.35" y2="81.29" stroke="#26a6a6" stroke-width="0.8" stroke-opacity="0.6"/>
<line x1="316.35" y1="88.55" x2="316.35" y2="80.42" stroke="#26a6a6" stroke-width="0.8" stroke-opacity="0.6"/>
<line x1="317.35" y1="87.55" x2="317.35" y2="77.71" stroke="#26a6a6" stroke-width="0.8" stroke-opacity="0.6"/>
<line x1="318.35" y1="86.55" x2="318.35" y2="71.59" stroke="#26a6a6" stroke-width="0.8" stroke-opacity="0.6"/>
<line x1="319.35" y1="85.55" x2="319.35" y2="66.85" stroke="#26a6a6" stroke-width="0.8" stroke-opacity="0.6"/>
<line x1="320.35" y1="84.55" x2="320.35" y2="79.36" stroke="#26a6a6" stroke-width="0.8" stroke-opacity="0.6"/>
<line x1="314.10" y1="90.80" x2="314.10" y2="70.50" stroke="#62c1c1" stroke-width="0.7"/>
<line x1="314.10" y1="90.80" x2="314.10" y2="79.63" stroke="#26a6a6" stroke-width="1.3"/>
<line x1="318.60" y1="86.30" x2="318.60" y2="62.70" stroke="#62c1c1" stroke-width="0.7"/>
<line x1="318.60" y1="86.30" x2="318.60" y2="73.32" stroke="#26a6a6" stroke-width="1.3"/>
<line x1="319.80" y1="85.10" x2="319.80" y2="65.00" stroke="#62c1c1" stroke-width="0.7"/>
<line x1="319.80" y1="85.10" x2="319.80" y2="74.05" stroke="#26a6a6" stroke-width="1.3"/>
<polygon points="324.15,91.30 324.15,76.82 324.65,76.32 324.65,74.65 325.15,74.15 325.15,74.15 325.65,73.65 325.65,73.65 326.15,73.15 326.15,81.13 326.65,80.63 326.65,78.79 327.15,78.29 327.15,79.74 327.65,79.24 327.65,79.53 328.15,79.03 328.15,66.55 328.65,66.05 328.65,66.05 329.15,65.55 329.15,75.57 329.65,75.07 329.65,74.40 330.15,73.90 330.15,76.74 330.65,76.24 330.65,65.35 331.15,64.85 331.15,64.85 331.65,64.35 331.65,83.80" fill="#acdaf2" fill-opacity="0.8" stroke="none"/>
<line x1="324.90" y1="90.55" x2="324.90" y2="74.08" stroke="#2896c6" stroke-width="0.8" stroke-opacity="0.6"/>
<line x1="325.90" y1="89.55" x2="325.90" y2="75.92" stroke="#2896c6" stroke-width="0.8" stroke-opacity="0.6"/>
<line x1="326.90" y1="88.55" x2="326.90" y2="80.77" stroke="#2896c6" stroke-width="0.8" stroke-opacity="0.6"/>
<line x1="327.90" y1="87.55" x2="327.90" y2="80.72" stroke="#2896c6" stroke-width="0.8" stroke-opacity="0.6"/>
<line x1="328.90" y1="86.55" x2="328.90" y2="72.06" stroke="#2896c6" stroke-width="0.8" stroke-opacity="0.6"/>
<line x1="329.90" y1="85.55" x2="329.90" y2="78.37" stroke="#2896c6" stroke-width="0.8" stroke-opacity="0.6"/>
<line x1="330.90" y1="84.55" x2="330.90" y2="72.35" stroke="#2896c6" stroke-width="0.8" stroke-opacity="0.6"/>
<line x1="325.40" y1="90.05" x2="325.40" y2="73.90" stroke="#63b5da" stroke-width="0.7"/>
<line x1="325.40" y1="90.05" x2="325.40" y2="81.17" stroke="#2896c6" stroke-width="1.3"/>
<line x1="328.70" y1="86.75" x2="328.70" y2="66.00" stroke="#63b5da" stroke-width="0.7"/>
<line x1="328.70" y1="86.75" x2="328.70" y2="75.34" stroke="#2896c6" stroke-width="1.3"/>
<line x1="331.00" y1="84.45" x2="331.00" y2="65.00" stroke="#63b5da" stroke-width="0.7"/>
<line x1="331.00" y1="84.45" x2="331.00" y2="73.75" stroke="#2896c6" stroke-width="1.3"/>
<polygon points="334.70,91.30 334.70,78.58 335.20,78.08 335.20,81.32 335.70,80.82 335.70,81.50 336.20,81.00 336.20,78.80 336.70,78.30 336.70,78.30 337.20,77.80 337.20,80.88 337.70,80.38 337.70,78.33 338.20,77.83 338.20,79.60 338.70,79.10 338.70,78.05 339.20,77.55 339.20,71.54 339.70,71.04 339.70,70.81 340.20,70.31 340.20,73.80 340.70,73.30 340.70,54.00 341.20,53.50 341.20,53.50 341.70,53.00 341.70,73.99 342.20,73.49 342.20,83.80" fill="#acd2f2" fill-opacity="0.8" stroke="none"/>
<line x1="335.45" y1="90.55" x2="335.45" y2="81.52" stroke="#2a86c6" stroke-width="0.8" stroke-opacity="0.6"/>
<line x1="336.45" y1="89.55" x2="336.45" y2="78.08" stroke="#2a86c6" stroke-width="0.8" stroke-opacity="0.6"/>
<line x1="337.45" y1="88.55" x2="337.45" y2="82.59" stroke="#2a86c6" stroke-width="0.8" stroke-opacity="0.6"/>
<line x1="338.45" y1="87.55" x2="338.45" y2="79.91" stroke="#2a86c6" stroke-width="0.8" stroke-opacity="0.6"/>
<line x1="339.45" y1="86.55" x2="339.45" y2="75.52" stroke="#2a86c6" stroke-width="0.8" stroke-opacity="0.6"/>
<line x1="340.45" y1="85.55" x2="340.45" y2="75.35" stroke="#2a86c6" stroke-width="0.8" stroke-opacity="0.6"/>
<line x1="341.45" y1="84.55" x2="341.45" y2="61.55" stroke="#2a86c6" stroke-width="0.8" stroke-opacity="0.6"/>
<line x1="336.60" y1="89.40" x2="336.60" y2="78.40" stroke="#64a8da" stroke-width="0.7"/>
<line x1="336.60" y1="89.40" x2="336.60" y2="83.35" stroke="#2a86c6" stroke-width="1.3"/>
<line x1="340.00" y1="86.00" x2="340.00" y2="74.00" stroke="#64a8da" stroke-width="0.7"/>
<line x1="340.00" y1="86.00" x2="340.00" y2="79.40" stroke="#2a86c6" stroke-width="1.3"/>
<line x1="341.00" y1="85.00" x2="341.00" y2="53.70" stroke="#64a8da" stroke-width="0.7"/>
<line x1="341.00" y1="85.00" x2="341.00" y2="67.78" stroke="#2a86c6" stroke-width="1.3"/>
<polygon points="345.25,91.30 345.25,79.91 345.75,79.41 345.75,79.94 346.25,79.44 346.25,79.71 346.75,79.21 346.75,78.26 347.25,77.76 347.25,69.95 347.75,69.45 347.75,69.45 348.25,68.95 348.25,78.50 348.75,78.00 348.75,80.30 349.25,79.80 349.25,69.05 349.75,68.55 349.75,68.55 350.25,68.05 350.25,68.05 350.75,67.55 350.75,77.00 351.25,76.50 351.25,69.95 351.75,69.45 351.75,69.45 352.25,68.95 352.25,79.75 352.75,79.25 352.75,83.80" fill="#b2cef2" fill-opacity="0.8" stroke="none"/>
<line x1="346.00" y1="90.55" x2="346.00" y2="79.25" stroke="#2e76c0" stroke-width="0.8" stroke-opacity="0.6"/>
<line x1="347.00" y1="89.55" x2="347.00" y2="81.90" stroke="#2e76c0" stroke-width="0.8" stroke-opacity="0.6"/>
<line x1="348.00" y1="88.55" x2="348.00" y2="73.11" stroke="#2e76c0" stroke-width="0.8" stroke-opacity="0.6"/>
<line x1="349.00" y1="87.55" x2="349.00" y2="80.57" stroke="#2e76c0" stroke-width="0.8" stroke-opacity="0.6"/>
<line x1="350.00" y1="86.55" x2="350.00" y2="69.14" stroke="#2e76c0" stroke-width="0.8" stroke-opacity="0.6"/>
<line x1="351.00" y1="85.55" x2="351.00" y2="79.19" stroke="#2e76c0" stroke-width="0.8" stroke-opacity="0.6"/>
<line x1="352.00" y1="84.55" x2="352.00" y2="73.65" stroke="#2e76c0" stroke-width="0.8" stroke-opacity="0.6"/>
<line x1="347.80" y1="88.75" x2="347.80" y2="69.40" stroke="#699ed6" stroke-width="0.7"/>
<line x1="347.80" y1="88.75" x2="347.80" y2="78.11" stroke="#2e76c0" stroke-width="1.3"/>
<line x1="350.00" y1="86.55" x2="350.00" y2="68.30" stroke="#699ed6" stroke-width="0.7"/>
<line x1="350.00" y1="86.55" x2="350.00" y2="76.51" stroke="#2e76c0" stroke-width="1.3"/>
<line x1="351.80" y1="84.75" x2="351.80" y2="69.40" stroke="#699ed6" stroke-width="0.7"/>
<line x1="351.80" y1="84.75" x2="351.80" y2="76.31" stroke="#2e76c0" stroke-width="1.3"/>
<polygon points="355.80,91.30 355.80,80.51 356.30,80.01 356.30,79.52 356.80,79.02 356.80,75.40 357.30,74.90 357.30,74.90 357.80,74.40 357.80,81.20 358.30,80.70 358.30,73.50 358.80,73.00 358.80,73.00 359.30,72.50 359.30,75.74 359.80,75.24 359.80,77.47 360.30,76.97 360.30,63.40 360.80,62.90 360.80,62.90 361.30,62.40 361.30,72.74 361.80,72.24 361.80,74.78 362.30,74.28 362.30,75.91 362.80,75.41 362.80,78.99 363.30,78.49 363.30,83.80" fill="#c4c6f2" fill-opacity="0.8" stroke="none"/>
<line x1="356.55" y1="90.55" x2="356.55" y2="83.49" stroke="#4e5ec0" stroke-width="0.8" stroke-opacity="0.6"/>
<line x1="357.55" y1="89.55" x2="357.55" y2="75.66" stroke="#4e5ec0" stroke-width="0.8" stroke-opacity="0.6"/>
<line x1="358.55" y1="88.55" x2="358.55" y2="77.94" stroke="#4e5ec0" stroke-width="0.8" stroke-opacity="0.6"/>
<line x1="359.55" y1="87.55" x2="359.55" y2="75.38" stroke="#4e5ec0" stroke-width="0.8" stroke-opacity="0.6"/>
<line x1="360.55" y1="86.55" x2="360.55" y2="66.67" stroke="#4e5ec0" stroke-width="0.8" stroke-opacity="0.6"/>
<line x1="361.55" y1="85.55" x2="361.55" y2="75.98" stroke="#4e5ec0" stroke-width="0.8" stroke-opacity="0.6"/>
<line x1="362.55" y1="84.55" x2="362.55" y2="78.49" stroke="#4e5ec0" stroke-width="0.8" stroke-opacity="0.6"/>
<line x1="357.20" y1="89.90" x2="357.20" y2="75.00" stroke="#838dd6" stroke-width="0.7"/>
<line x1="357.20" y1="89.90" x2="357.20" y2="81.71" stroke="#4e5ec0" stroke-width="1.3"/>
<line x1="359.00" y1="88.10" x2="359.00" y2="72.80" stroke="#838dd6" stroke-width="0.7"/>
<line x1="359.00" y1="88.10" x2="359.00" y2="79.69" stroke="#4e5ec0" stroke-width="1.3"/>
<line x1="361.00" y1="86.10" x2="361.00" y2="62.70" stroke="#838dd6" stroke-width="0.7"/>
<line x1="361.00" y1="86.10" x2="361.00" y2="73.23" stroke="#4e5ec0" stroke-width="1.3"/>
<polygon points="366.35,91.30 366.35,81.49 366.85,80.99 366.85,79.26 367.35,78.76 367.35,75.45 367.85,74.95 367.85,74.95 368.35,74.45 368.35,79.84 368.85,79.34 368.85,81.63 369.35,81.13 369.35,82.70 369.85,82.20 369.85,79.37 370.35,78.87 370.35,72.05 370.85,71.55 370.85,71.55 371.35,71.05 371.35,76.80 371.85,76.30 371.85,68.75 372.35,68.25 372.35,68.25 372.85,67.75 372.85,77.13 373.35,76.63 373.35,79.29 373.85,78.79 373.85,83.80" fill="#dec4f2" fill-opacity="0.8" stroke="none"/>
<line x1="367.10" y1="90.55" x2="367.10" y2="80.14" stroke="#9046c8" stroke-width="0.8" stroke-opacity="0.6"/>
<line x1="368.10" y1="89.55" x2="368.10" y2="74.78" stroke="#9046c8" stroke-width="0.8" stroke-opacity="0.6"/>
<line x1="369.10" y1="88.55" x2="369.10" y2="83.19" stroke="#9046c8" stroke-width="0.8" stroke-opacity="0.6"/>
<line x1="370.10" y1="87.55" x2="370.10" y2="82.12" stroke="#9046c8" stroke-width="0.8" stroke-opacity="0.6"/>
<line x1="371.10" y1="86.55" x2="371.10" y2="75.28" stroke="#9046c8" stroke-width="0.8" stroke-opacity="0.6"/>
<line x1="372.10" y1="85.55" x2="372.10" y2="72.44" stroke="#9046c8" stroke-width="0.8" stroke-opacity="0.6"/>
<line x1="373.10" y1="84.55" x2="373.10" y2="77.25" stroke="#9046c8" stroke-width="0.8" stroke-opacity="0.6"/>
<line x1="367.80" y1="89.85" x2="367.80" y2="75.00" stroke="#b37fdb" stroke-width="0.7"/>
<line x1="367.80" y1="89.85" x2="367.80" y2="81.68" stroke="#9046c8" stroke-width="1.3"/>
<line x1="370.80" y1="86.85" x2="370.80" y2="71.60" stroke="#b37fdb" stroke-width="0.7"/>
<line x1="370.80" y1="86.85" x2="370.80" y2="78.46" stroke="#9046c8" stroke-width="1.3"/>
<line x1="372.30" y1="85.35" x2="372.30" y2="68.30" stroke="#b37fdb" stroke-width="0.7"/>
<line x1="372.30" y1="85.35" x2="372.30" y2="75.97" stroke="#9046c8" stroke-width="1.3"/>
<polygon points="376.90,91.30 376.90,81.76 377.40,81.26 377.40,76.50 377.90,76.00 377.90,76.00 378.40,75.50 378.40,81.72 378.90,81.22 378.90,81.19 379.40,80.69 379.40,81.60 379.90,81.10 379.90,81.64 380.40,81.14 380.40,80.72 380.90,80.22 380.90,74.30 381.40,73.80 381.40,73.80 381.90,73.30 381.90,79.53 382.40,79.03 382.40,73.30 382.90,72.80 382.90,72.80 383.40,72.30 383.40,77.88 383.90,77.38 383.90,81.79 384.40,81.29 384.40,83.80" fill="#f2c4d6" fill-opacity="0.8" stroke="none"/>
<line x1="377.65" y1="90.55" x2="377.65" y2="79.59" stroke="#c84686" stroke-width="0.8" stroke-opacity="0.6"/>
<line x1="378.65" y1="89.55" x2="378.65" y2="81.12" stroke="#c84686" stroke-width="0.8" stroke-opacity="0.6"/>
<line x1="379.65" y1="88.55" x2="379.65" y2="80.96" stroke="#c84686" stroke-width="0.8" stroke-opacity="0.6"/>
<line x1="380.65" y1="87.55" x2="380.65" y2="80.57" stroke="#c84686" stroke-width="0.8" stroke-opacity="0.6"/>
<line x1="381.65" y1="86.55" x2="381.65" y2="73.07" stroke="#c84686" stroke-width="0.8" stroke-opacity="0.6"/>
<line x1="382.65" y1="85.55" x2="382.65" y2="72.91" stroke="#c84686" stroke-width="0.8" stroke-opacity="0.6"/>
<line x1="383.65" y1="84.55" x2="383.65" y2="79.01" stroke="#c84686" stroke-width="0.8" stroke-opacity="0.6"/>
<line x1="377.90" y1="90.30" x2="377.90" y2="76.00" stroke="#db7faa" stroke-width="0.7"/>
<line x1="377.90" y1="90.30" x2="377.90" y2="82.44" stroke="#c84686" stroke-width="1.3"/>
<line x1="381.30" y1="86.90" x2="381.30" y2="73.90" stroke="#db7faa" stroke-width="0.7"/>
<line x1="381.30" y1="86.90" x2="381.30" y2="79.75" stroke="#c84686" stroke-width="1.3"/>
<line x1="382.90" y1="85.30" x2="382.90" y2="72.80" stroke="#db7faa" stroke-width="0.7"/>
<line x1="382.90" y1="85.30" x2="382.90" y2="78.42" stroke="#c84686" stroke-width="1.3"/>
<polygon points="387.45,91.30 387.45,75.55 387.95,75.05 387.95,75.05 388.45,74.55 388.45,78.02 388.95,77.52 388.95,78.43 389.45,77.93 389.45,79.88 389.95,79.38 389.95,80.09 390.45,79.59 390.45,81.74 390.95,81.24 390.95,68.75 391.45,68.25 391.45,68.25 391.95,67.75 391.95,76.10 392.45,75.60 392.45,75.37 392.95,74.87 392.95,64.45 393.45,63.95 393.45,63.95 393.95,63.45 393.95,77.42 394.45,76.92 394.45,77.15 394.95,76.65 394.95,83.80" fill="#f8c4b4" fill-opacity="0.8" stroke="none"/>
<line x1="388.20" y1="90.55" x2="388.20" y2="78.76" stroke="#d84836" stroke-width="0.8" stroke-opacity="0.6"/>
<line x1="389.20" y1="89.55" x2="389.20" y2="78.12" stroke="#d84836" stroke-width="0.8" stroke-opacity="0.6"/>
<line x1="390.20" y1="88.55" x2="390.20" y2="82.98" stroke="#d84836" stroke-width="0.8" stroke-opacity="0.6"/>
<line x1="391.20" y1="87.55" x2="391.20" y2="73.09" stroke="#d84836" stroke-width="0.8" stroke-opacity="0.6"/>
<line x1="392.20" y1="86.55" x2="392.20" y2="76.14" stroke="#d84836" stroke-width="0.8" stroke-opacity="0.6"/>
<line x1="393.20" y1="85.55" x2="393.20" y2="66.23" stroke="#d84836" stroke-width="0.8" stroke-opacity="0.6"/>
<line x1="394.20" y1="84.55" x2="394.20" y2="79.69" stroke="#d84836" stroke-width="0.8" stroke-opacity="0.6"/>
<line x1="388.00" y1="90.75" x2="388.00" y2="75.00" stroke="#e6806f" stroke-width="0.7"/>
<line x1="388.00" y1="90.75" x2="388.00" y2="82.09" stroke="#d84836" stroke-width="1.3"/>
<line x1="391.40" y1="87.35" x2="391.40" y2="68.30" stroke="#e6806f" stroke-width="0.7"/>
<line x1="391.40" y1="87.35" x2="391.40" y2="76.87" stroke="#d84836" stroke-width="1.3"/>
<line x1="393.60" y1="85.15" x2="393.60" y2="63.80" stroke="#e6806f" stroke-width="0.7"/>
<line x1="393.60" y1="85.15" x2="393.60" y2="73.41" stroke="#d84836" stroke-width="1.3"/>
<polygon points="398.00,91.30 398.00,80.58 398.50,80.08 398.50,69.00 399.00,68.50 399.00,68.50 399.50,68.00 399.50,77.01 400.00,76.51 400.00,79.05 400.50,78.55 400.50,75.96 401.00,75.46 401.00,78.03 401.50,77.53 401.50,79.17 402.00,78.67 402.00,65.60 402.50,65.10 402.50,65.10 403.00,64.60 403.00,76.17 403.50,75.67 403.50,79.40 404.00,78.90 404.00,75.97 404.50,75.47 404.50,71.90 405.00,71.40 405.00,71.40 405.50,70.90 405.50,83.80" fill="#f8cca4" fill-opacity="0.8" stroke="none"/>
<line x1="398.75" y1="90.55" x2="398.75" y2="73.94" stroke="#e66a1e" stroke-width="0.8" stroke-opacity="0.6"/>
<line x1="399.75" y1="89.55" x2="399.75" y2="79.10" stroke="#e66a1e" stroke-width="0.8" stroke-opacity="0.6"/>
<line x1="400.75" y1="88.55" x2="400.75" y2="75.62" stroke="#e66a1e" stroke-width="0.8" stroke-opacity="0.6"/>
<line x1="401.75" y1="87.55" x2="401.75" y2="81.42" stroke="#e66a1e" stroke-width="0.8" stroke-opacity="0.6"/>
<line x1="402.75" y1="86.55" x2="402.75" y2="66.60" stroke="#e66a1e" stroke-width="0.8" stroke-opacity="0.6"/>
<line x1="403.75" y1="85.55" x2="403.75" y2="79.13" stroke="#e66a1e" stroke-width="0.8" stroke-opacity="0.6"/>
<line x1="404.75" y1="84.55" x2="404.75" y2="72.15" stroke="#e66a1e" stroke-width="0.8" stroke-opacity="0.6"/>
<line x1="399.20" y1="90.10" x2="399.20" y2="68.30" stroke="#ee965a" stroke-width="0.7"/>
<line x1="399.20" y1="90.10" x2="399.20" y2="78.11" stroke="#e66a1e" stroke-width="1.3"/>
<line x1="402.60" y1="86.70" x2="402.60" y2="65.00" stroke="#ee965a" stroke-width="0.7"/>
<line x1="402.60" y1="86.70" x2="402.60" y2="74.76" stroke="#e66a1e" stroke-width="1.3"/>
<line x1="404.80" y1="84.50" x2="404.80" y2="71.60" stroke="#ee965a" stroke-width="0.7"/>
<line x1="404.80" y1="84.50" x2="404.80" y2="77.40" stroke="#e66a1e" stroke-width="1.3"/>
<polygon points="408.55,91.30 408.55,77.89 409.05,77.39 409.05,80.11 409.55,79.61 409.55,79.94 410.05,79.44 410.05,74.35 410.55,73.85 410.55,73.85 411.05,73.35 411.05,77.99 411.55,77.49 411.55,81.43 412.05,80.93 412.05,78.99 412.55,78.49 412.55,76.85 413.05,76.35 413.05,71.25 413.55,70.75 413.55,70.75 414.05,70.25 414.05,70.25 414.55,69.75 414.55,79.39 415.05,78.89 415.05,78.20 415.55,77.70 415.55,80.58 416.05,80.08 416.05,83.80" fill="#fad6a4" fill-opacity="0.8" stroke="none"/>
<line x1="409.30" y1="90.55" x2="409.30" y2="82.03" stroke="#f08c1e" stroke-width="0.8" stroke-opacity="0.6"/>
<line x1="410.30" y1="89.55" x2="410.30" y2="76.26" stroke="#f08c1e" stroke-width="0.8" stroke-opacity="0.6"/>
<line x1="411.30" y1="88.55" x2="411.30" y2="78.70" stroke="#f08c1e" stroke-width="0.8" stroke-opacity="0.6"/>
<line x1="412.30" y1="87.55" x2="412.30" y2="79.05" stroke="#f08c1e" stroke-width="0.8" stroke-opacity="0.6"/>
<line x1="413.30" y1="86.55" x2="413.30" y2="71.66" stroke="#f08c1e" stroke-width="0.8" stroke-opacity="0.6"/>
<line x1="414.30" y1="85.55" x2="414.30" y2="71.89" stroke="#f08c1e" stroke-width="0.8" stroke-opacity="0.6"/>
<line x1="415.30" y1="84.55" x2="415.30" y2="79.88" stroke="#f08c1e" stroke-width="0.8" stroke-opacity="0.6"/>
<line x1="410.40" y1="89.45" x2="410.40" y2="74.00" stroke="#f4ad5a" stroke-width="0.7"/>
<line x1="410.40" y1="89.45" x2="410.40" y2="80.95" stroke="#f08c1e" stroke-width="1.3"/>
<line x1="413.80" y1="86.05" x2="413.80" y2="70.50" stroke="#f4ad5a" stroke-width="0.7"/>
<line x1="413.80" y1="86.05" x2="413.80" y2="77.50" stroke="#f08c1e" stroke-width="1.3"/>
<polygon points="419.10,91.30 419.10,78.55 419.60,78.05 419.60,79.92 420.10,79.42 420.10,77.60 420.60,77.10 420.60,77.10 421.10,76.60 421.10,81.51 421.60,81.01 421.60,81.98 422.10,81.48 422.10,79.86 422.60,79.36 422.60,81.12 423.10,80.62 423.10,80.77 423.60,80.27 423.60,77.79 424.10,77.29 424.10,78.33 424.60,77.83 424.60,69.80 425.10,69.30 425.10,69.30 425.60,68.80 425.60,78.84 426.10,78.34 426.10,76.14 426.60,75.64 426.60,83.80" fill="#fce6ac" fill-opacity="0.8" stroke="none"/>
<line x1="419.85" y1="90.55" x2="419.85" y2="79.48" stroke="#f4ae2c" stroke-width="0.8" stroke-opacity="0.6"/>
<line x1="420.85" y1="89.55" x2="420.85" y2="81.68" stroke="#f4ae2c" stroke-width="0.8" stroke-opacity="0.6"/>
<line x1="421.85" y1="88.55" x2="421.85" y2="83.20" stroke="#f4ae2c" stroke-width="0.8" stroke-opacity="0.6"/>
<line x1="422.85" y1="87.55" x2="422.85" y2="82.84" stroke="#f4ae2c" stroke-width="0.8" stroke-opacity="0.6"/>
<line x1="423.85" y1="86.55" x2="423.85" y2="80.16" stroke="#f4ae2c" stroke-width="0.8" stroke-opacity="0.6"/>
<line x1="424.85" y1="85.55" x2="424.85" y2="69.40" stroke="#f4ae2c" stroke-width="0.8" stroke-opacity="0.6"/>
<line x1="425.85" y1="84.55" x2="425.85" y2="78.94" stroke="#f4ae2c" stroke-width="0.8" stroke-opacity="0.6"/>
<line x1="420.50" y1="89.90" x2="420.50" y2="77.20" stroke="#f8c766" stroke-width="0.7"/>
<line x1="420.50" y1="89.90" x2="420.50" y2="82.92" stroke="#f4ae2c" stroke-width="1.3"/>
<line x1="425.00" y1="85.40" x2="425.00" y2="69.40" stroke="#f8c766" stroke-width="0.7"/>
<line x1="425.00" y1="85.40" x2="425.00" y2="76.60" stroke="#f4ae2c" stroke-width="1.3"/>
<line x1="288.5" y1="85.0" x2="437.0" y2="85.0" stroke="#555" stroke-width="0.8" stroke-opacity="0.2"/>
<line x1="281.0" y1="92.5" x2="429.5" y2="92.5" stroke="#aaa" stroke-width="1"/>
<line x1="281.0" y1="92.5" x2="281.0" y2="46.3" stroke="#555" stroke-width="1"/>
<line x1="281.0" y1="92.5" x2="284.0" y2="92.5" stroke="#555" stroke-width="1"/>
<line x1="281.0" y1="69.4" x2="284.0" y2="69.4" stroke="#555" stroke-width="1"/>
<line x1="281.0" y1="46.3" x2="284.0" y2="46.3" stroke="#555" stroke-width="1"/>
<line x1="281.00" y1="92.50" x2="284.60" y2="92.50" stroke="#000" stroke-width="0.8"/>
<line x1="429.50" y1="92.50" x2="424.70" y2="92.50" stroke="#000" stroke-width="0.8"/>
<line x1="282.13" y1="91.37" x2="285.73" y2="91.37" stroke="#000" stroke-width="0.8"/>
<line x1="430.63" y1="91.37" x2="425.83" y2="91.37" stroke="#000" stroke-width="0.8"/>
<line x1="282.79" y1="90.71" x2="286.39" y2="90.71" stroke="#000" stroke-width="0.8"/>
<line x1="431.29" y1="90.71" x2="426.49" y2="90.71" stroke="#000" stroke-width="0.8"/>
<line x1="283.26" y1="90.24" x2="286.86" y2="90.24" stroke="#000" stroke-width="0.8"/>
<line x1="431.76" y1="90.24" x2="426.96" y2="90.24" stroke="#000" stroke-width="0.8"/>
<line x1="283.62" y1="89.88" x2="287.22" y2="89.88" stroke="#000" stroke-width="0.8"/>
<line x1="432.12" y1="89.88" x2="427.32" y2="89.88" stroke="#000" stroke-width="0.8"/>
<line x1="283.92" y1="89.58" x2="287.52" y2="89.58" stroke="#000" stroke-width="0.8"/>
<line x1="432.42" y1="89.58" x2="427.62" y2="89.58" stroke="#000" stroke-width="0.8"/>
<line x1="284.17" y1="89.33" x2="287.77" y2="89.33" stroke="#000" stroke-width="0.8"/>
<line x1="432.67" y1="89.33" x2="427.87" y2="89.33" stroke="#000" stroke-width="0.8"/>
<line x1="284.39" y1="89.11" x2="287.99" y2="89.11" stroke="#000" stroke-width="0.8"/>
<line x1="432.89" y1="89.11" x2="428.09" y2="89.11" stroke="#000" stroke-width="0.8"/>
<line x1="284.58" y1="88.92" x2="288.18" y2="88.92" stroke="#000" stroke-width="0.8"/>
<line x1="433.08" y1="88.92" x2="428.28" y2="88.92" stroke="#000" stroke-width="0.8"/>
<line x1="284.75" y1="88.75" x2="288.35" y2="88.75" stroke="#000" stroke-width="0.8"/>
<line x1="433.25" y1="88.75" x2="428.45" y2="88.75" stroke="#000" stroke-width="0.8"/>
<line x1="285.88" y1="87.62" x2="289.48" y2="87.62" stroke="#000" stroke-width="0.8"/>
<line x1="434.38" y1="87.62" x2="429.58" y2="87.62" stroke="#000" stroke-width="0.8"/>
<line x1="286.54" y1="86.96" x2="290.14" y2="86.96" stroke="#000" stroke-width="0.8"/>
<line x1="435.04" y1="86.96" x2="430.24" y2="86.96" stroke="#000" stroke-width="0.8"/>
<line x1="287.01" y1="86.49" x2="290.61" y2="86.49" stroke="#000" stroke-width="0.8"/>
<line x1="435.51" y1="86.49" x2="430.71" y2="86.49" stroke="#000" stroke-width="0.8"/>
<line x1="287.37" y1="86.13" x2="290.97" y2="86.13" stroke="#000" stroke-width="0.8"/>
<line x1="435.87" y1="86.13" x2="431.07" y2="86.13" stroke="#000" stroke-width="0.8"/>
<line x1="287.67" y1="85.83" x2="291.27" y2="85.83" stroke="#000" stroke-width="0.8"/>
<line x1="436.17" y1="85.83" x2="431.37" y2="85.83" stroke="#000" stroke-width="0.8"/>
<line x1="287.92" y1="85.58" x2="291.52" y2="85.58" stroke="#000" stroke-width="0.8"/>
<line x1="436.42" y1="85.58" x2="431.62" y2="85.58" stroke="#000" stroke-width="0.8"/>
<line x1="288.14" y1="85.36" x2="291.74" y2="85.36" stroke="#000" stroke-width="0.8"/>
<line x1="436.64" y1="85.36" x2="431.84" y2="85.36" stroke="#000" stroke-width="0.8"/>
<line x1="288.33" y1="85.17" x2="291.93" y2="85.17" stroke="#000" stroke-width="0.8"/>
<line x1="436.83" y1="85.17" x2="432.03" y2="85.17" stroke="#000" stroke-width="0.8"/>
<line x1="288.50" y1="85.00" x2="292.10" y2="85.00" stroke="#000" stroke-width="0.8"/>
<line x1="437.00" y1="85.00" x2="432.20" y2="85.00" stroke="#000" stroke-width="0.8"/>
<text class="t" x="275.9" y="96.2" text-anchor="end" font-size="11.8" letter-spacing="0.4">0</text>
<text class="t" x="275.9" y="73.10000000000001" text-anchor="end" font-size="11.8" letter-spacing="0.4">2.5</text>
<text class="t" x="275.9" y="50.0" text-anchor="end" font-size="11.8" letter-spacing="0.4">5</text>
<text class="t" x="298.2" y="110.0" text-anchor="middle" font-size="11.6" letter-spacing="0.7">30</text>
<text class="t" x="319.3" y="110.0" text-anchor="middle" font-size="11.6" letter-spacing="0.7">40</text>
<text class="t" x="340.4" y="110.0" text-anchor="middle" font-size="11.6" letter-spacing="0.7">50</text>
<text class="t" x="361.5" y="110.0" text-anchor="middle" font-size="11.6" letter-spacing="0.7">60</text>
<text class="t" x="382.59999999999997" y="110.0" text-anchor="middle" font-size="11.6" letter-spacing="0.7">70</text>
<text class="t" x="403.7" y="110.0" text-anchor="middle" font-size="11.6" letter-spacing="0.7">80</text>
<text class="t" x="424.8" y="110.0" text-anchor="middle" font-size="11.6" letter-spacing="0.7">90</text>
<text class="s" x="431.50" y="94.90" font-size="5.6">0.1</text>
<text class="s" x="435.55" y="91.00" font-size="5.6">1</text>
<text class="s" x="439.60" y="87.10" font-size="5.6">10</text>
<line x1="73.3" y1="203.0" x2="221.8" y2="203.0" stroke="#666" stroke-width="0.9"/>
<polygon points="77.00,209.30 77.00,191.10 77.50,190.60 77.50,193.89 78.00,193.39 78.00,193.50 78.50,193.00 78.50,189.00 79.00,188.50 79.00,188.50 79.50,188.00 79.50,195.22 80.00,194.72 80.00,192.65 80.50,192.15 80.50,193.91 81.00,193.41 81.00,194.73 81.50,194.23 81.50,192.75 82.00,192.25 82.00,183.30 82.50,182.80 82.50,182.80 83.00,182.30 83.00,192.36 83.50,191.86 83.50,186.70 84.00,186.20 84.00,186.20 84.50,185.70 84.50,201.80" fill="#aee2c4" fill-opacity="0.8" stroke="none"/>
<line x1="77.75" y1="208.55" x2="77.75" y2="199.28" stroke="#27a55c" stroke-width="0.8" stroke-opacity="0.6"/>
<line x1="78.75" y1="207.55" x2="78.75" y2="195.74" stroke="#27a55c" stroke-width="0.8" stroke-opacity="0.6"/>
<line x1="79.75" y1="206.55" x2="79.75" y2="197.50" stroke="#27a55c" stroke-width="0.8" stroke-opacity="0.6"/>
<line x1="80.75" y1="205.55" x2="80.75" y2="195.47" stroke="#27a55c" stroke-width="0.8" stroke-opacity="0.6"/>
<line x1="81.75" y1="204.55" x2="81.75" y2="193.88" stroke="#27a55c" stroke-width="0.8" stroke-opacity="0.6"/>
<line x1="82.75" y1="203.55" x2="82.75" y2="190.53" stroke="#27a55c" stroke-width="0.8" stroke-opacity="0.6"/>
<line x1="83.75" y1="202.55" x2="83.75" y2="191.90" stroke="#27a55c" stroke-width="0.8" stroke-opacity="0.6"/>
<line x1="79.00" y1="207.30" x2="79.00" y2="188.50" stroke="#64c08b" stroke-width="0.7"/>
<line x1="79.00" y1="207.30" x2="79.00" y2="196.96" stroke="#27a55c" stroke-width="1.3"/>
<line x1="82.30" y1="204.00" x2="82.30" y2="183.00" stroke="#64c08b" stroke-width="0.7"/>
<line x1="82.30" y1="204.00" x2="82.30" y2="192.45" stroke="#27a55c" stroke-width="1.3"/>
<line x1="83.90" y1="202.40" x2="83.90" y2="186.30" stroke="#64c08b" stroke-width="0.7"/>
<line x1="83.90" y1="202.40" x2="83.90" y2="193.55" stroke="#27a55c" stroke-width="1.3"/>
<polygon points="87.55,209.30 87.55,188.87 88.05,188.37 88.05,190.93 88.55,190.43 88.55,184.45 89.05,183.95 89.05,183.95 89.55,183.45 89.55,189.52 90.05,189.02 90.05,188.03 90.55,187.53 90.55,185.85 91.05,185.35 91.05,185.35 91.55,184.85 91.55,184.85 92.05,184.35 92.05,192.32 92.55,191.82 92.55,188.25 93.05,187.75 93.05,184.45 93.55,183.95 93.55,183.95 94.05,183.45 94.05,192.28 94.55,191.78 94.55,189.15 95.05,188.65 95.05,201.80" fill="#b2e8d2" fill-opacity="0.8" stroke="none"/>
<line x1="88.30" y1="208.55" x2="88.30" y2="197.38" stroke="#34b888" stroke-width="0.8" stroke-opacity="0.6"/>
<line x1="89.30" y1="207.55" x2="89.30" y2="187.54" stroke="#34b888" stroke-width="0.8" stroke-opacity="0.6"/>
<line x1="90.30" y1="206.55" x2="90.30" y2="192.60" stroke="#34b888" stroke-width="0.8" stroke-opacity="0.6"/>
<line x1="91.30" y1="205.55" x2="91.30" y2="189.27" stroke="#34b888" stroke-width="0.8" stroke-opacity="0.6"/>
<line x1="92.30" y1="204.55" x2="92.30" y2="196.23" stroke="#34b888" stroke-width="0.8" stroke-opacity="0.6"/>
<line x1="93.30" y1="203.55" x2="93.30" y2="189.92" stroke="#34b888" stroke-width="0.8" stroke-opacity="0.6"/>
<line x1="94.30" y1="202.55" x2="94.30" y2="193.66" stroke="#34b888" stroke-width="0.8" stroke-opacity="0.6"/>
<line x1="89.00" y1="207.85" x2="89.00" y2="184.00" stroke="#6dcea9" stroke-width="0.7"/>
<line x1="89.00" y1="207.85" x2="89.00" y2="194.73" stroke="#34b888" stroke-width="1.3"/>
<line x1="91.30" y1="205.55" x2="91.30" y2="185.10" stroke="#6dcea9" stroke-width="0.7"/>
<line x1="91.30" y1="205.55" x2="91.30" y2="194.30" stroke="#34b888" stroke-width="1.3"/>
<line x1="93.50" y1="203.35" x2="93.50" y2="184.00" stroke="#6dcea9" stroke-width="0.7"/>
<line x1="93.50" y1="203.35" x2="93.50" y2="192.71" stroke="#34b888" stroke-width="1.3"/>
<polygon points="98.10,209.30 98.10,192.12 98.60,191.62 98.60,196.21 99.10,195.71 99.10,192.73 99.60,192.23 99.60,190.30 100.10,189.80 100.10,189.80 100.60,189.30 100.60,192.03 101.10,191.53 101.10,194.34 101.60,193.84 101.60,194.81 102.10,194.31 102.10,191.20 102.60,190.70 102.60,190.70 103.10,190.20 103.10,192.82 103.60,192.32 103.60,192.52 104.10,192.02 104.10,183.60 104.60,183.10 104.60,183.10 105.10,182.60 105.10,194.16 105.60,193.66 105.60,201.80" fill="#ace2e2" fill-opacity="0.8" stroke="none"/>
<line x1="98.85" y1="208.55" x2="98.85" y2="200.28" stroke="#26a6a6" stroke-width="0.8" stroke-opacity="0.6"/>
<line x1="99.85" y1="207.55" x2="99.85" y2="195.42" stroke="#26a6a6" stroke-width="0.8" stroke-opacity="0.6"/>
<line x1="100.85" y1="206.55" x2="100.85" y2="193.14" stroke="#26a6a6" stroke-width="0.8" stroke-opacity="0.6"/>
<line x1="101.85" y1="205.55" x2="101.85" y2="194.47" stroke="#26a6a6" stroke-width="0.8" stroke-opacity="0.6"/>
<line x1="102.85" y1="204.55" x2="102.85" y2="195.88" stroke="#26a6a6" stroke-width="0.8" stroke-opacity="0.6"/>
<line x1="103.85" y1="203.55" x2="103.85" y2="193.88" stroke="#26a6a6" stroke-width="0.8" stroke-opacity="0.6"/>
<line x1="104.85" y1="202.55" x2="104.85" y2="184.72" stroke="#26a6a6" stroke-width="0.8" stroke-opacity="0.6"/>
<line x1="100.30" y1="207.10" x2="100.30" y2="189.60" stroke="#62c1c1" stroke-width="0.7"/>
<line x1="100.30" y1="207.10" x2="100.30" y2="197.47" stroke="#26a6a6" stroke-width="1.3"/>
<line x1="102.50" y1="204.90" x2="102.50" y2="190.80" stroke="#62c1c1" stroke-width="0.7"/>
<line x1="102.50" y1="204.90" x2="102.50" y2="197.15" stroke="#26a6a6" stroke-width="1.3"/>
<line x1="104.80" y1="202.60" x2="104.80" y2="182.90" stroke="#62c1c1" stroke-width="0.7"/>
<line x1="104.80" y1="202.60" x2="104.80" y2="191.77" stroke="#26a6a6" stroke-width="1.3"/>
<polygon points="108.65,209.30 108.65,197.76 109.15,197.26 109.15,193.76 109.65,193.26 109.65,197.36 110.15,196.86 110.15,195.20 110.65,194.70 110.65,196.42 111.15,195.92 111.15,193.35 111.65,192.85 111.65,192.85 112.15,192.35 112.15,194.66 112.65,194.16 112.65,195.76 113.15,195.26 113.15,194.86 113.65,194.36 113.65,196.73 114.15,196.23 114.15,188.05 114.65,187.55 114.65,187.55 115.15,187.05 115.15,197.41 115.65,196.91 115.65,188.85 116.15,188.35 116.15,201.80" fill="#acdaf2" fill-opacity="0.8" stroke="none"/>
<line x1="109.40" y1="208.55" x2="109.40" y2="196.30" stroke="#2896c6" stroke-width="0.8" stroke-opacity="0.6"/>
<line x1="110.40" y1="207.55" x2="110.40" y2="199.73" stroke="#2896c6" stroke-width="0.8" stroke-opacity="0.6"/>
<line x1="111.40" y1="206.55" x2="111.40" y2="194.76" stroke="#2896c6" stroke-width="0.8" stroke-opacity="0.6"/>
<line x1="112.40" y1="205.55" x2="112.40" y2="198.35" stroke="#2896c6" stroke-width="0.8" stroke-opacity="0.6"/>
<line x1="113.40" y1="204.55" x2="113.40" y2="195.15" stroke="#2896c6" stroke-width="0.8" stroke-opacity="0.6"/>
<line x1="114.40" y1="203.55" x2="114.40" y2="188.96" stroke="#2896c6" stroke-width="0.8" stroke-opacity="0.6"/>
<line x1="115.40" y1="202.55" x2="115.40" y2="197.58" stroke="#2896c6" stroke-width="0.8" stroke-opacity="0.6"/>
<line x1="111.50" y1="206.45" x2="111.50" y2="193.00" stroke="#63b5da" stroke-width="0.7"/>
<line x1="111.50" y1="206.45" x2="111.50" y2="199.05" stroke="#2896c6" stroke-width="1.3"/>
<line x1="114.80" y1="203.15" x2="114.80" y2="187.40" stroke="#63b5da" stroke-width="0.7"/>
<line x1="114.80" y1="203.15" x2="114.80" y2="194.49" stroke="#2896c6" stroke-width="1.3"/>
<line x1="116.00" y1="201.95" x2="116.00" y2="188.50" stroke="#63b5da" stroke-width="0.7"/>
<line x1="116.00" y1="201.95" x2="116.00" y2="194.55" stroke="#2896c6" stroke-width="1.3"/>
<polygon points="119.20,209.30 119.20,192.08 119.70,191.58 119.70,170.20 120.20,169.70 120.20,169.70 120.70,169.20 120.70,185.17 121.20,184.67 121.20,184.40 121.70,183.90 121.70,183.90 122.20,183.40 122.20,187.57 122.70,187.07 122.70,191.52 123.20,191.02 123.20,187.70 123.70,187.20 123.70,192.02 124.20,191.52 124.20,190.60 124.70,190.10 124.70,189.50 125.20,189.00 125.20,189.77 125.70,189.27 125.70,176.50 126.20,176.00 126.20,176.00 126.70,175.50 126.70,201.80" fill="#acd2f2" fill-opacity="0.8" stroke="none"/>
<line x1="119.95" y1="208.55" x2="119.95" y2="172.02" stroke="#2a86c6" stroke-width="0.8" stroke-opacity="0.6"/>
<line x1="120.95" y1="207.55" x2="120.95" y2="192.46" stroke="#2a86c6" stroke-width="0.8" stroke-opacity="0.6"/>
<line x1="121.95" y1="206.55" x2="121.95" y2="190.76" stroke="#2a86c6" stroke-width="0.8" stroke-opacity="0.6"/>
<line x1="122.95" y1="205.55" x2="122.95" y2="193.91" stroke="#2a86c6" stroke-width="0.8" stroke-opacity="0.6"/>
<line x1="123.95" y1="204.55" x2="123.95" y2="195.08" stroke="#2a86c6" stroke-width="0.8" stroke-opacity="0.6"/>
<line x1="124.95" y1="203.55" x2="124.95" y2="194.79" stroke="#2a86c6" stroke-width="0.8" stroke-opacity="0.6"/>
<line x1="125.95" y1="202.55" x2="125.95" y2="185.42" stroke="#2a86c6" stroke-width="0.8" stroke-opacity="0.6"/>
<line x1="120.40" y1="208.10" x2="120.40" y2="169.50" stroke="#64a8da" stroke-width="0.7"/>
<line x1="120.40" y1="208.10" x2="120.40" y2="186.87" stroke="#2a86c6" stroke-width="1.3"/>
<line x1="121.60" y1="206.90" x2="121.60" y2="184.00" stroke="#64a8da" stroke-width="0.7"/>
<line x1="121.60" y1="206.90" x2="121.60" y2="194.31" stroke="#2a86c6" stroke-width="1.3"/>
<line x1="126.00" y1="202.50" x2="126.00" y2="176.20" stroke="#64a8da" stroke-width="0.7"/>
<line x1="126.00" y1="202.50" x2="126.00" y2="188.03" stroke="#2a86c6" stroke-width="1.3"/>
<polygon points="129.75,209.30 129.75,191.54 130.25,191.04 130.25,187.67 130.75,187.17 130.75,187.87 131.25,187.37 131.25,183.45 131.75,182.95 131.75,182.95 132.25,182.45 132.25,189.70 132.75,189.20 132.75,187.99 133.25,187.49 133.25,184.65 133.75,184.15 133.75,184.15 134.25,183.65 134.25,187.39 134.75,186.89 134.75,188.36 135.25,187.86 135.25,189.46 135.75,188.96 135.75,186.65 136.25,186.15 136.25,186.15 136.75,185.65 136.75,188.63 137.25,188.13 137.25,201.80" fill="#b2cef2" fill-opacity="0.8" stroke="none"/>
<line x1="130.50" y1="208.55" x2="130.50" y2="188.94" stroke="#2e76c0" stroke-width="0.8" stroke-opacity="0.6"/>
<line x1="131.50" y1="207.55" x2="131.50" y2="190.91" stroke="#2e76c0" stroke-width="0.8" stroke-opacity="0.6"/>
<line x1="132.50" y1="206.55" x2="132.50" y2="191.80" stroke="#2e76c0" stroke-width="0.8" stroke-opacity="0.6"/>
<line x1="133.50" y1="205.55" x2="133.50" y2="184.46" stroke="#2e76c0" stroke-width="0.8" stroke-opacity="0.6"/>
<line x1="134.50" y1="204.55" x2="134.50" y2="189.95" stroke="#2e76c0" stroke-width="0.8" stroke-opacity="0.6"/>
<line x1="135.50" y1="203.55" x2="135.50" y2="190.88" stroke="#2e76c0" stroke-width="0.8" stroke-opacity="0.6"/>
<line x1="136.50" y1="202.55" x2="136.50" y2="190.50" stroke="#2e76c0" stroke-width="0.8" stroke-opacity="0.6"/>
<line x1="131.70" y1="207.35" x2="131.70" y2="183.00" stroke="#699ed6" stroke-width="0.7"/>
<line x1="131.70" y1="207.35" x2="131.70" y2="193.96" stroke="#2e76c0" stroke-width="1.3"/>
<line x1="133.90" y1="205.15" x2="133.90" y2="184.00" stroke="#699ed6" stroke-width="0.7"/>
<line x1="133.90" y1="205.15" x2="133.90" y2="193.52" stroke="#2e76c0" stroke-width="1.3"/>
<line x1="136.10" y1="202.95" x2="136.10" y2="186.30" stroke="#699ed6" stroke-width="0.7"/>
<line x1="136.10" y1="202.95" x2="136.10" y2="193.79" stroke="#2e76c0" stroke-width="1.3"/>
<polygon points="140.30,209.30 140.30,195.74 140.80,195.24 140.80,195.00 141.30,194.50 141.30,190.00 141.80,189.50 141.80,189.50 142.30,189.00 142.30,191.27 142.80,190.77 142.80,194.61 143.30,194.11 143.30,195.64 143.80,195.14 143.80,193.98 144.30,193.48 144.30,193.96 144.80,193.46 144.80,188.80 145.30,188.30 145.30,188.30 145.80,187.80 145.80,176.60 146.30,176.10 146.30,176.10 146.80,175.60 146.80,195.00 147.30,194.50 147.30,187.74 147.80,187.24 147.80,201.80" fill="#c4c6f2" fill-opacity="0.8" stroke="none"/>
<line x1="141.05" y1="208.55" x2="141.05" y2="195.61" stroke="#4e5ec0" stroke-width="0.8" stroke-opacity="0.6"/>
<line x1="142.05" y1="207.55" x2="142.05" y2="193.69" stroke="#4e5ec0" stroke-width="0.8" stroke-opacity="0.6"/>
<line x1="143.05" y1="206.55" x2="143.05" y2="197.77" stroke="#4e5ec0" stroke-width="0.8" stroke-opacity="0.6"/>
<line x1="144.05" y1="205.55" x2="144.05" y2="198.33" stroke="#4e5ec0" stroke-width="0.8" stroke-opacity="0.6"/>
<line x1="145.05" y1="204.55" x2="145.05" y2="190.65" stroke="#4e5ec0" stroke-width="0.8" stroke-opacity="0.6"/>
<line x1="146.05" y1="203.55" x2="146.05" y2="181.54" stroke="#4e5ec0" stroke-width="0.8" stroke-opacity="0.6"/>
<line x1="147.05" y1="202.55" x2="147.05" y2="196.34" stroke="#4e5ec0" stroke-width="0.8" stroke-opacity="0.6"/>
<line x1="141.70" y1="207.90" x2="141.70" y2="189.60" stroke="#838dd6" stroke-width="0.7"/>
<line x1="141.70" y1="207.90" x2="141.70" y2="197.84" stroke="#4e5ec0" stroke-width="1.3"/>
<line x1="145.10" y1="204.50" x2="145.10" y2="188.50" stroke="#838dd6" stroke-width="0.7"/>
<line x1="145.10" y1="204.50" x2="145.10" y2="195.70" stroke="#4e5ec0" stroke-width="1.3"/>
<line x1="146.20" y1="203.40" x2="146.20" y2="176.20" stroke="#838dd6" stroke-width="0.7"/>
<line x1="146.20" y1="203.40" x2="146.20" y2="188.44" stroke="#4e5ec0" stroke-width="1.3"/>
<polygon points="150.85,209.30 150.85,195.92 151.35,195.42 151.35,196.93 151.85,196.43 151.85,195.48 152.35,194.98 152.35,194.63 152.85,194.13 152.85,195.15 153.35,194.65 153.35,196.49 153.85,195.99 153.85,198.86 154.35,198.36 154.35,193.75 154.85,193.25 154.85,193.25 155.35,192.75 155.35,198.44 155.85,197.94 155.85,196.11 156.35,195.61 156.35,195.08 156.85,194.58 156.85,191.25 157.35,190.75 157.35,190.75 157.85,190.25 157.85,194.70 158.35,194.20 158.35,201.80" fill="#dec4f2" fill-opacity="0.8" stroke="none"/>
<line x1="151.60" y1="208.55" x2="151.60" y2="197.62" stroke="#9046c8" stroke-width="0.8" stroke-opacity="0.6"/>
<line x1="152.60" y1="207.55" x2="152.60" y2="199.61" stroke="#9046c8" stroke-width="0.8" stroke-opacity="0.6"/>
<line x1="153.60" y1="206.55" x2="153.60" y2="196.33" stroke="#9046c8" stroke-width="0.8" stroke-opacity="0.6"/>
<line x1="154.60" y1="205.55" x2="154.60" y2="194.31" stroke="#9046c8" stroke-width="0.8" stroke-opacity="0.6"/>
<line x1="155.60" y1="204.55" x2="155.60" y2="198.98" stroke="#9046c8" stroke-width="0.8" stroke-opacity="0.6"/>
<line x1="156.60" y1="203.55" x2="156.60" y2="195.15" stroke="#9046c8" stroke-width="0.8" stroke-opacity="0.6"/>
<line x1="157.60" y1="202.55" x2="157.60" y2="192.86" stroke="#9046c8" stroke-width="0.8" stroke-opacity="0.6"/>
<line x1="152.80" y1="207.35" x2="152.80" y2="195.20" stroke="#b37fdb" stroke-width="0.7"/>
<line x1="152.80" y1="207.35" x2="152.80" y2="200.67" stroke="#9046c8" stroke-width="1.3"/>
<line x1="155.10" y1="205.05" x2="155.10" y2="193.00" stroke="#b37fdb" stroke-width="0.7"/>
<line x1="155.10" y1="205.05" x2="155.10" y2="198.42" stroke="#9046c8" stroke-width="1.3"/>
<line x1="157.30" y1="202.85" x2="157.30" y2="190.80" stroke="#b37fdb" stroke-width="0.7"/>
<line x1="157.30" y1="202.85" x2="157.30" y2="196.22" stroke="#9046c8" stroke-width="1.3"/>
<polygon points="161.40,209.30 161.40,198.02 161.90,197.52 161.90,197.99 162.40,197.49 162.40,194.70 162.90,194.20 162.90,194.20 163.40,193.70 163.40,195.67 163.90,195.17 163.90,195.59 164.40,195.09 164.40,196.38 164.90,195.88 164.90,196.97 165.40,196.47 165.40,196.53 165.90,196.03 165.90,190.00 166.40,189.50 166.40,189.50 166.90,189.00 166.90,194.75 167.40,194.25 167.40,187.90 167.90,187.40 167.90,187.40 168.40,186.90 168.40,195.42 168.90,194.92 168.90,201.80" fill="#f2c4d6" fill-opacity="0.8" stroke="none"/>
<line x1="162.15" y1="208.55" x2="162.15" y2="197.71" stroke="#c84686" stroke-width="0.8" stroke-opacity="0.6"/>
<line x1="163.15" y1="207.55" x2="163.15" y2="197.46" stroke="#c84686" stroke-width="0.8" stroke-opacity="0.6"/>
<line x1="164.15" y1="206.55" x2="164.15" y2="198.54" stroke="#c84686" stroke-width="0.8" stroke-opacity="0.6"/>
<line x1="165.15" y1="205.55" x2="165.15" y2="196.39" stroke="#c84686" stroke-width="0.8" stroke-opacity="0.6"/>
<line x1="166.15" y1="204.55" x2="166.15" y2="191.71" stroke="#c84686" stroke-width="0.8" stroke-opacity="0.6"/>
<line x1="167.15" y1="203.55" x2="167.15" y2="195.07" stroke="#c84686" stroke-width="0.8" stroke-opacity="0.6"/>
<line x1="168.15" y1="202.55" x2="168.15" y2="189.00" stroke="#c84686" stroke-width="0.8" stroke-opacity="0.6"/>
<line x1="163.00" y1="207.70" x2="163.00" y2="194.10" stroke="#db7faa" stroke-width="0.7"/>
<line x1="163.00" y1="207.70" x2="163.00" y2="200.22" stroke="#c84686" stroke-width="1.3"/>
<line x1="166.30" y1="204.40" x2="166.30" y2="189.60" stroke="#db7faa" stroke-width="0.7"/>
<line x1="166.30" y1="204.40" x2="166.30" y2="196.26" stroke="#c84686" stroke-width="1.3"/>
<line x1="167.90" y1="202.80" x2="167.90" y2="187.40" stroke="#db7faa" stroke-width="0.7"/>
<line x1="167.90" y1="202.80" x2="167.90" y2="194.33" stroke="#c84686" stroke-width="1.3"/>
<polygon points="171.95,209.30 171.95,194.25 172.45,193.75 172.45,194.95 172.95,194.45 172.95,195.25 173.45,194.75 173.45,194.86 173.95,194.36 173.95,195.53 174.45,195.03 174.45,197.61 174.95,197.11 174.95,198.09 175.45,197.59 175.45,198.33 175.95,197.83 175.95,191.25 176.45,190.75 176.45,190.75 176.95,190.25 176.95,196.73 177.45,196.23 177.45,198.44 177.95,197.94 177.95,185.75 178.45,185.25 178.45,185.25 178.95,184.75 178.95,193.98 179.45,193.48 179.45,201.80" fill="#f8c4b4" fill-opacity="0.8" stroke="none"/>
<line x1="172.70" y1="208.55" x2="172.70" y2="199.88" stroke="#d84836" stroke-width="0.8" stroke-opacity="0.6"/>
<line x1="173.70" y1="207.55" x2="173.70" y2="196.44" stroke="#d84836" stroke-width="0.8" stroke-opacity="0.6"/>
<line x1="174.70" y1="206.55" x2="174.70" y2="199.33" stroke="#d84836" stroke-width="0.8" stroke-opacity="0.6"/>
<line x1="175.70" y1="205.55" x2="175.70" y2="197.94" stroke="#d84836" stroke-width="0.8" stroke-opacity="0.6"/>
<line x1="176.70" y1="204.55" x2="176.70" y2="191.16" stroke="#d84836" stroke-width="0.8" stroke-opacity="0.6"/>
<line x1="177.70" y1="203.55" x2="177.70" y2="197.60" stroke="#d84836" stroke-width="0.8" stroke-opacity="0.6"/>
<line x1="178.70" y1="202.55" x2="178.70" y2="191.74" stroke="#d84836" stroke-width="0.8" stroke-opacity="0.6"/>
<line x1="173.00" y1="208.25" x2="173.00" y2="195.20" stroke="#e6806f" stroke-width="0.7"/>
<line x1="173.00" y1="208.25" x2="173.00" y2="201.07" stroke="#d84836" stroke-width="1.3"/>
<line x1="176.40" y1="204.85" x2="176.40" y2="190.80" stroke="#e6806f" stroke-width="0.7"/>
<line x1="176.40" y1="204.85" x2="176.40" y2="197.12" stroke="#d84836" stroke-width="1.3"/>
<line x1="178.60" y1="202.65" x2="178.60" y2="185.10" stroke="#e6806f" stroke-width="0.7"/>
<line x1="178.60" y1="202.65" x2="178.60" y2="193.00" stroke="#d84836" stroke-width="1.3"/>
<polygon points="182.50,209.30 182.50,186.90 183.00,186.40 183.00,186.40 183.50,185.90 183.50,191.03 184.00,190.53 184.00,194.72 184.50,194.22 184.50,191.51 185.00,191.01 185.00,185.50 185.50,185.00 185.50,185.00 186.00,184.50 186.00,192.59 186.50,192.09 186.50,195.25 187.00,194.75 187.00,191.96 187.50,191.46 187.50,194.15 188.00,193.65 188.00,183.60 188.50,183.10 188.50,183.10 189.00,182.60 189.00,163.10 189.50,162.60 189.50,162.60 190.00,162.10 190.00,201.80" fill="#f8cca4" fill-opacity="0.8" stroke="none"/>
<line x1="183.25" y1="208.55" x2="183.25" y2="187.53" stroke="#e66a1e" stroke-width="0.8" stroke-opacity="0.6"/>
<line x1="184.25" y1="207.55" x2="184.25" y2="196.17" stroke="#e66a1e" stroke-width="0.8" stroke-opacity="0.6"/>
<line x1="185.25" y1="206.55" x2="185.25" y2="193.90" stroke="#e66a1e" stroke-width="0.8" stroke-opacity="0.6"/>
<line x1="186.25" y1="205.55" x2="186.25" y2="195.25" stroke="#e66a1e" stroke-width="0.8" stroke-opacity="0.6"/>
<line x1="187.25" y1="204.55" x2="187.25" y2="194.38" stroke="#e66a1e" stroke-width="0.8" stroke-opacity="0.6"/>
<line x1="188.25" y1="203.55" x2="188.25" y2="185.16" stroke="#e66a1e" stroke-width="0.8" stroke-opacity="0.6"/>
<line x1="189.25" y1="202.55" x2="189.25" y2="174.38" stroke="#e66a1e" stroke-width="0.8" stroke-opacity="0.6"/>
<line x1="183.10" y1="208.70" x2="183.10" y2="186.30" stroke="#ee965a" stroke-width="0.7"/>
<line x1="183.10" y1="208.70" x2="183.10" y2="196.38" stroke="#e66a1e" stroke-width="1.3"/>
<line x1="185.40" y1="206.40" x2="185.40" y2="185.10" stroke="#ee965a" stroke-width="0.7"/>
<line x1="185.40" y1="206.40" x2="185.40" y2="194.69" stroke="#e66a1e" stroke-width="1.3"/>
<line x1="188.70" y1="203.10" x2="188.70" y2="182.90" stroke="#ee965a" stroke-width="0.7"/>
<line x1="188.70" y1="203.10" x2="188.70" y2="191.99" stroke="#e66a1e" stroke-width="1.3"/>
<line x1="189.40" y1="202.40" x2="189.40" y2="162.70" stroke="#ee965a" stroke-width="0.7"/>
<line x1="189.40" y1="202.40" x2="189.40" y2="180.56" stroke="#e66a1e" stroke-width="1.3"/>
<polygon points="193.05,209.30 193.05,195.35 193.55,194.85 193.55,196.46 194.05,195.96 194.05,194.84 194.55,194.34 194.55,195.05 195.05,194.55 195.05,198.30 195.55,197.80 195.55,198.14 196.05,197.64 196.05,190.15 196.55,189.65 196.55,189.65 197.05,189.15 197.05,194.36 197.55,193.86 197.55,197.47 198.05,196.97 198.05,182.55 198.55,182.05 198.55,182.05 199.05,181.55 199.05,181.55 199.55,181.05 199.55,196.54 200.05,196.04 200.05,193.76 200.55,193.26 200.55,201.80" fill="#fad6a4" fill-opacity="0.8" stroke="none"/>
<line x1="193.80" y1="208.55" x2="193.80" y2="200.51" stroke="#f08c1e" stroke-width="0.8" stroke-opacity="0.6"/>
<line x1="194.80" y1="207.55" x2="194.80" y2="196.33" stroke="#f08c1e" stroke-width="0.8" stroke-opacity="0.6"/>
<line x1="195.80" y1="206.55" x2="195.80" y2="200.81" stroke="#f08c1e" stroke-width="0.8" stroke-opacity="0.6"/>
<line x1="196.80" y1="205.55" x2="196.80" y2="190.54" stroke="#f08c1e" stroke-width="0.8" stroke-opacity="0.6"/>
<line x1="197.80" y1="204.55" x2="197.80" y2="197.48" stroke="#f08c1e" stroke-width="0.8" stroke-opacity="0.6"/>
<line x1="198.80" y1="203.55" x2="198.80" y2="183.70" stroke="#f08c1e" stroke-width="0.8" stroke-opacity="0.6"/>
<line x1="199.80" y1="202.55" x2="199.80" y2="196.57" stroke="#f08c1e" stroke-width="0.8" stroke-opacity="0.6"/>
<line x1="193.20" y1="209.15" x2="193.20" y2="195.20" stroke="#f4ad5a" stroke-width="0.7"/>
<line x1="193.20" y1="209.15" x2="193.20" y2="201.48" stroke="#f08c1e" stroke-width="1.3"/>
<line x1="196.60" y1="205.75" x2="196.60" y2="189.60" stroke="#f4ad5a" stroke-width="0.7"/>
<line x1="196.60" y1="205.75" x2="196.60" y2="196.87" stroke="#f08c1e" stroke-width="1.3"/>
<line x1="198.80" y1="203.55" x2="198.80" y2="181.80" stroke="#f4ad5a" stroke-width="0.7"/>
<line x1="198.80" y1="203.55" x2="198.80" y2="191.59" stroke="#f08c1e" stroke-width="1.3"/>
<polygon points="203.60,209.30 203.60,196.17 204.10,195.67 204.10,195.94 204.60,195.44 204.60,193.50 205.10,193.00 205.10,193.40 205.60,192.90 205.60,192.90 206.10,192.40 206.10,196.92 206.60,196.42 206.60,195.44 207.10,194.94 207.10,191.50 207.60,191.00 207.60,191.00 208.10,190.50 208.10,195.29 208.60,194.79 208.60,194.72 209.10,194.22 209.10,193.50 209.60,193.00 209.60,193.00 210.10,192.50 210.10,194.24 210.60,193.74 210.60,195.76 211.10,195.26 211.10,201.80" fill="#fce6ac" fill-opacity="0.8" stroke="none"/>
<line x1="204.35" y1="208.55" x2="204.35" y2="197.56" stroke="#f4ae2c" stroke-width="0.8" stroke-opacity="0.6"/>
<line x1="205.35" y1="207.55" x2="205.35" y2="198.18" stroke="#f4ae2c" stroke-width="0.8" stroke-opacity="0.6"/>
<line x1="206.35" y1="206.55" x2="206.35" y2="198.41" stroke="#f4ae2c" stroke-width="0.8" stroke-opacity="0.6"/>
<line x1="207.35" y1="205.55" x2="207.35" y2="191.54" stroke="#f4ae2c" stroke-width="0.8" stroke-opacity="0.6"/>
<line x1="208.35" y1="204.55" x2="208.35" y2="197.64" stroke="#f4ae2c" stroke-width="0.8" stroke-opacity="0.6"/>
<line x1="209.35" y1="203.55" x2="209.35" y2="196.34" stroke="#f4ae2c" stroke-width="0.8" stroke-opacity="0.6"/>
<line x1="210.35" y1="202.55" x2="210.35" y2="196.00" stroke="#f4ae2c" stroke-width="0.8" stroke-opacity="0.6"/>
<line x1="205.50" y1="207.40" x2="205.50" y2="193.00" stroke="#f8c766" stroke-width="0.7"/>
<line x1="205.50" y1="207.40" x2="205.50" y2="199.48" stroke="#f4ae2c" stroke-width="1.3"/>
<line x1="207.80" y1="205.10" x2="207.80" y2="190.80" stroke="#f8c766" stroke-width="0.7"/>
<line x1="207.80" y1="205.10" x2="207.80" y2="197.24" stroke="#f4ae2c" stroke-width="1.3"/>
<line x1="209.60" y1="203.30" x2="209.60" y2="193.00" stroke="#f8c766" stroke-width="0.7"/>
<line x1="209.60" y1="203.30" x2="209.60" y2="197.64" stroke="#f4ae2c" stroke-width="1.3"/>
<line x1="73.3" y1="203.0" x2="221.8" y2="203.0" stroke="#555" stroke-width="0.8" stroke-opacity="0.2"/>
<line x1="65.8" y1="210.5" x2="214.3" y2="210.5" stroke="#aaa" stroke-width="1"/>
<line x1="65.8" y1="210.5" x2="65.8" y2="164.3" stroke="#555" stroke-width="1"/>
<line x1="65.8" y1="210.5" x2="68.8" y2="210.5" stroke="#555" stroke-width="1"/>
<line x1="65.8" y1="187.4" x2="68.8" y2="187.4" stroke="#555" stroke-width="1"/>
<line x1="65.8" y1="164.3" x2="68.8" y2="164.3" stroke="#555" stroke-width="1"/>
<line x1="65.80" y1="210.50" x2="69.40" y2="210.50" stroke="#000" stroke-width="0.8"/>
<line x1="214.30" y1="210.50" x2="209.50" y2="210.50" stroke="#000" stroke-width="0.8"/>
<line x1="66.93" y1="209.37" x2="70.53" y2="209.37" stroke="#000" stroke-width="0.8"/>
<line x1="215.43" y1="209.37" x2="210.63" y2="209.37" stroke="#000" stroke-width="0.8"/>
<line x1="67.59" y1="208.71" x2="71.19" y2="208.71" stroke="#000" stroke-width="0.8"/>
<line x1="216.09" y1="208.71" x2="211.29" y2="208.71" stroke="#000" stroke-width="0.8"/>
<line x1="68.06" y1="208.24" x2="71.66" y2="208.24" stroke="#000" stroke-width="0.8"/>
<line x1="216.56" y1="208.24" x2="211.76" y2="208.24" stroke="#000" stroke-width="0.8"/>
<line x1="68.42" y1="207.88" x2="72.02" y2="207.88" stroke="#000" stroke-width="0.8"/>
<line x1="216.92" y1="207.88" x2="212.12" y2="207.88" stroke="#000" stroke-width="0.8"/>
<line x1="68.72" y1="207.58" x2="72.32" y2="207.58" stroke="#000" stroke-width="0.8"/>
<line x1="217.22" y1="207.58" x2="212.42" y2="207.58" stroke="#000" stroke-width="0.8"/>
<line x1="68.97" y1="207.33" x2="72.57" y2="207.33" stroke="#000" stroke-width="0.8"/>
<line x1="217.47" y1="207.33" x2="212.67" y2="207.33" stroke="#000" stroke-width="0.8"/>
<line x1="69.19" y1="207.11" x2="72.79" y2="207.11" stroke="#000" stroke-width="0.8"/>
<line x1="217.69" y1="207.11" x2="212.89" y2="207.11" stroke="#000" stroke-width="0.8"/>
<line x1="69.38" y1="206.92" x2="72.98" y2="206.92" stroke="#000" stroke-width="0.8"/>
<line x1="217.88" y1="206.92" x2="213.08" y2="206.92" stroke="#000" stroke-width="0.8"/>
<line x1="69.55" y1="206.75" x2="73.15" y2="206.75" stroke="#000" stroke-width="0.8"/>
<line x1="218.05" y1="206.75" x2="213.25" y2="206.75" stroke="#000" stroke-width="0.8"/>
<line x1="70.68" y1="205.62" x2="74.28" y2="205.62" stroke="#000" stroke-width="0.8"/>
<line x1="219.18" y1="205.62" x2="214.38" y2="205.62" stroke="#000" stroke-width="0.8"/>
<line x1="71.34" y1="204.96" x2="74.94" y2="204.96" stroke="#000" stroke-width="0.8"/>
<line x1="219.84" y1="204.96" x2="215.04" y2="204.96" stroke="#000" stroke-width="0.8"/>
<line x1="71.81" y1="204.49" x2="75.41" y2="204.49" stroke="#000" stroke-width="0.8"/>
<line x1="220.31" y1="204.49" x2="215.51" y2="204.49" stroke="#000" stroke-width="0.8"/>
<line x1="72.17" y1="204.13" x2="75.77" y2="204.13" stroke="#000" stroke-width="0.8"/>
<line x1="220.67" y1="204.13" x2="215.87" y2="204.13" stroke="#000" stroke-width="0.8"/>
<line x1="72.47" y1="203.83" x2="76.07" y2="203.83" stroke="#000" stroke-width="0.8"/>
<line x1="220.97" y1="203.83" x2="216.17" y2="203.83" stroke="#000" stroke-width="0.8"/>
<line x1="72.72" y1="203.58" x2="76.32" y2="203.58" stroke="#000" stroke-width="0.8"/>
<line x1="221.22" y1="203.58" x2="216.42" y2="203.58" stroke="#000" stroke-width="0.8"/>
<line x1="72.94" y1="203.36" x2="76.54" y2="203.36" stroke="#000" stroke-width="0.8"/>
<line x1="221.44" y1="203.36" x2="216.64" y2="203.36" stroke="#000" stroke-width="0.8"/>
<line x1="73.13" y1="203.17" x2="76.73" y2="203.17" stroke="#000" stroke-width="0.8"/>
<line x1="221.63" y1="203.17" x2="216.83" y2="203.17" stroke="#000" stroke-width="0.8"/>
<line x1="73.30" y1="203.00" x2="76.90" y2="203.00" stroke="#000" stroke-width="0.8"/>
<line x1="221.80" y1="203.00" x2="217.00" y2="203.00" stroke="#000" stroke-width="0.8"/>
<text class="t" x="60.699999999999996" y="214.2" text-anchor="end" font-size="11.8" letter-spacing="0.4">0</text>
<text class="t" x="60.699999999999996" y="191.1" text-anchor="end" font-size="11.8" letter-spacing="0.4">2.5</text>
<text class="t" x="60.699999999999996" y="168.0" text-anchor="end" font-size="11.8" letter-spacing="0.4">5</text>
<text class="t" x="82.7" y="228.0" text-anchor="middle" font-size="11.6" letter-spacing="0.7">30</text>
<text class="t" x="103.8" y="228.0" text-anchor="middle" font-size="11.6" letter-spacing="0.7">40</text>
<text class="t" x="124.9" y="228.0" text-anchor="middle" font-size="11.6" letter-spacing="0.7">50</text>
<text class="t" x="146.0" y="228.0" text-anchor="middle" font-size="11.6" letter-spacing="0.7">60</text>
<text class="t" x="167.1" y="228.0" text-anchor="middle" font-size="11.6" letter-spacing="0.7">70</text>
<text class="t" x="188.2" y="228.0" text-anchor="middle" font-size="11.6" letter-spacing="0.7">80</text>
<text class="t" x="209.3" y="228.0" text-anchor="middle" font-size="11.6" letter-spacing="0.7">90</text>
<text class="s" x="216.30" y="212.90" font-size="5.6">0.1</text>
<text class="s" x="220.35" y="209.00" font-size="5.6">1</text>
<text class="s" x="224.40" y="205.10" font-size="5.6">10</text>
<line x1="288.5" y1="203.0" x2="437.0" y2="203.0" stroke="#666" stroke-width="0.9"/>
<polygon points="292.50,209.30 292.50,184.33 293.00,183.83 293.00,183.63 293.50,183.13 293.50,187.07 294.00,186.57 294.00,173.20 294.50,172.70 294.50,172.70 295.00,172.20 295.00,187.05 295.50,186.55 295.50,186.33 296.00,185.83 296.00,187.34 296.50,186.84 296.50,187.34 297.00,186.84 297.00,179.80 297.50,179.30 297.50,179.30 298.00,178.80 298.00,157.00 298.50,156.50 298.50,156.50 299.00,156.00 299.00,185.91 299.50,185.41 299.50,178.21 300.00,177.71 300.00,201.80" fill="#aee2c4" fill-opacity="0.8" stroke="none"/>
<line x1="293.25" y1="208.55" x2="293.25" y2="186.73" stroke="#27a55c" stroke-width="0.8" stroke-opacity="0.6"/>
<line x1="294.25" y1="207.55" x2="294.25" y2="180.69" stroke="#27a55c" stroke-width="0.8" stroke-opacity="0.6"/>
<line x1="295.25" y1="206.55" x2="295.25" y2="189.72" stroke="#27a55c" stroke-width="0.8" stroke-opacity="0.6"/>
<line x1="296.25" y1="205.55" x2="296.25" y2="191.09" stroke="#27a55c" stroke-width="0.8" stroke-opacity="0.6"/>
<line x1="297.25" y1="204.55" x2="297.25" y2="188.65" stroke="#27a55c" stroke-width="0.8" stroke-opacity="0.6"/>
<line x1="298.25" y1="203.55" x2="298.25" y2="165.56" stroke="#27a55c" stroke-width="0.8" stroke-opacity="0.6"/>
<line x1="299.25" y1="202.55" x2="299.25" y2="189.67" stroke="#27a55c" stroke-width="0.8" stroke-opacity="0.6"/>
<line x1="294.40" y1="207.40" x2="294.40" y2="172.80" stroke="#64c08b" stroke-width="0.7"/>
<line x1="294.40" y1="207.40" x2="294.40" y2="188.37" stroke="#27a55c" stroke-width="1.3"/>
<line x1="297.30" y1="204.50" x2="297.30" y2="179.50" stroke="#64c08b" stroke-width="0.7"/>
<line x1="297.30" y1="204.50" x2="297.30" y2="190.75" stroke="#27a55c" stroke-width="1.3"/>
<line x1="298.50" y1="203.30" x2="298.50" y2="156.50" stroke="#64c08b" stroke-width="0.7"/>
<line x1="298.50" y1="203.30" x2="298.50" y2="177.56" stroke="#27a55c" stroke-width="1.3"/>
<polygon points="303.05,209.30 303.05,196.55 303.55,196.05 303.55,194.55 304.05,194.05 304.05,194.05 304.55,193.55 304.55,196.50 305.05,196.00 305.05,199.11 305.55,198.61 305.55,195.85 306.05,195.35 306.05,196.75 306.55,196.25 306.55,196.85 307.05,196.35 307.05,195.55 307.55,195.05 307.55,195.05 308.05,194.55 308.05,199.55 308.55,199.05 308.55,193.65 309.05,193.15 309.05,193.15 309.55,192.65 309.55,198.13 310.05,197.63 310.05,197.14 310.55,196.64 310.55,201.80" fill="#b2e8d2" fill-opacity="0.8" stroke="none"/>
<line x1="303.80" y1="208.55" x2="303.80" y2="195.88" stroke="#34b888" stroke-width="0.8" stroke-opacity="0.6"/>
<line x1="304.80" y1="207.55" x2="304.80" y2="196.03" stroke="#34b888" stroke-width="0.8" stroke-opacity="0.6"/>
<line x1="305.80" y1="206.55" x2="305.80" y2="198.98" stroke="#34b888" stroke-width="0.8" stroke-opacity="0.6"/>
<line x1="306.80" y1="205.55" x2="306.80" y2="197.31" stroke="#34b888" stroke-width="0.8" stroke-opacity="0.6"/>
<line x1="307.80" y1="204.55" x2="307.80" y2="195.12" stroke="#34b888" stroke-width="0.8" stroke-opacity="0.6"/>
<line x1="308.80" y1="203.55" x2="308.80" y2="195.54" stroke="#34b888" stroke-width="0.8" stroke-opacity="0.6"/>
<line x1="309.80" y1="202.55" x2="309.80" y2="198.17" stroke="#34b888" stroke-width="0.8" stroke-opacity="0.6"/>
<line x1="304.00" y1="208.35" x2="304.00" y2="194.10" stroke="#6dcea9" stroke-width="0.7"/>
<line x1="304.00" y1="208.35" x2="304.00" y2="200.51" stroke="#34b888" stroke-width="1.3"/>
<line x1="307.40" y1="204.95" x2="307.40" y2="195.20" stroke="#6dcea9" stroke-width="0.7"/>
<line x1="307.40" y1="204.95" x2="307.40" y2="199.59" stroke="#34b888" stroke-width="1.3"/>
<line x1="309.20" y1="203.15" x2="309.20" y2="193.00" stroke="#6dcea9" stroke-width="0.7"/>
<line x1="309.20" y1="203.15" x2="309.20" y2="197.57" stroke="#34b888" stroke-width="1.3"/>
<polygon points="313.60,209.30 313.60,187.90 314.10,187.40 314.10,187.40 314.60,186.90 314.60,191.93 315.10,191.43 315.10,189.95 315.60,189.45 315.60,191.78 316.10,191.28 316.10,181.00 316.60,180.50 316.60,180.50 317.10,180.00 317.10,191.45 317.60,190.95 317.60,192.04 318.10,191.54 318.10,189.91 318.60,189.41 318.60,191.23 319.10,190.73 319.10,185.80 319.60,185.30 319.60,185.30 320.10,184.80 320.10,189.73 320.60,189.23 320.60,194.37 321.10,193.87 321.10,201.80" fill="#ace2e2" fill-opacity="0.8" stroke="none"/>
<line x1="314.35" y1="208.55" x2="314.35" y2="192.51" stroke="#26a6a6" stroke-width="0.8" stroke-opacity="0.6"/>
<line x1="315.35" y1="207.55" x2="315.35" y2="196.97" stroke="#26a6a6" stroke-width="0.8" stroke-opacity="0.6"/>
<line x1="316.35" y1="206.55" x2="316.35" y2="187.18" stroke="#26a6a6" stroke-width="0.8" stroke-opacity="0.6"/>
<line x1="317.35" y1="205.55" x2="317.35" y2="194.38" stroke="#26a6a6" stroke-width="0.8" stroke-opacity="0.6"/>
<line x1="318.35" y1="204.55" x2="318.35" y2="191.21" stroke="#26a6a6" stroke-width="0.8" stroke-opacity="0.6"/>
<line x1="319.35" y1="203.55" x2="319.35" y2="190.29" stroke="#26a6a6" stroke-width="0.8" stroke-opacity="0.6"/>
<line x1="320.35" y1="202.55" x2="320.35" y2="193.19" stroke="#26a6a6" stroke-width="0.8" stroke-opacity="0.6"/>
<line x1="314.10" y1="208.80" x2="314.10" y2="187.40" stroke="#62c1c1" stroke-width="0.7"/>
<line x1="314.10" y1="208.80" x2="314.10" y2="197.03" stroke="#26a6a6" stroke-width="1.3"/>
<line x1="316.40" y1="206.50" x2="316.40" y2="180.70" stroke="#62c1c1" stroke-width="0.7"/>
<line x1="316.40" y1="206.50" x2="316.40" y2="192.31" stroke="#26a6a6" stroke-width="1.3"/>
<line x1="319.80" y1="203.10" x2="319.80" y2="185.10" stroke="#62c1c1" stroke-width="0.7"/>
<line x1="319.80" y1="203.10" x2="319.80" y2="193.20" stroke="#26a6a6" stroke-width="1.3"/>
<polygon points="324.15,209.30 324.15,181.85 324.65,181.35 324.65,190.94 325.15,190.44 325.15,192.01 325.65,191.51 325.65,190.64 326.15,190.14 326.15,192.69 326.65,192.19 326.65,193.59 327.15,193.09 327.15,194.00 327.65,193.50 327.65,190.60 328.15,190.10 328.15,187.95 328.65,187.45 328.65,187.45 329.15,186.95 329.15,193.52 329.65,193.02 329.65,192.88 330.15,192.38 330.15,190.57 330.65,190.07 330.65,184.35 331.15,183.85 331.15,183.85 331.65,183.35 331.65,201.80" fill="#acdaf2" fill-opacity="0.8" stroke="none"/>
<line x1="324.90" y1="208.55" x2="324.90" y2="197.11" stroke="#2896c6" stroke-width="0.8" stroke-opacity="0.6"/>
<line x1="325.90" y1="207.55" x2="325.90" y2="191.33" stroke="#2896c6" stroke-width="0.8" stroke-opacity="0.6"/>
<line x1="326.90" y1="206.55" x2="326.90" y2="196.58" stroke="#2896c6" stroke-width="0.8" stroke-opacity="0.6"/>
<line x1="327.90" y1="205.55" x2="327.90" y2="190.95" stroke="#2896c6" stroke-width="0.8" stroke-opacity="0.6"/>
<line x1="328.90" y1="204.55" x2="328.90" y2="192.36" stroke="#2896c6" stroke-width="0.8" stroke-opacity="0.6"/>
<line x1="329.90" y1="203.55" x2="329.90" y2="195.06" stroke="#2896c6" stroke-width="0.8" stroke-opacity="0.6"/>
<line x1="330.90" y1="202.55" x2="330.90" y2="189.75" stroke="#2896c6" stroke-width="0.8" stroke-opacity="0.6"/>
<line x1="324.20" y1="209.25" x2="324.20" y2="181.80" stroke="#63b5da" stroke-width="0.7"/>
<line x1="324.20" y1="209.25" x2="324.20" y2="194.15" stroke="#2896c6" stroke-width="1.3"/>
<line x1="328.70" y1="204.75" x2="328.70" y2="187.40" stroke="#63b5da" stroke-width="0.7"/>
<line x1="328.70" y1="204.75" x2="328.70" y2="195.21" stroke="#2896c6" stroke-width="1.3"/>
<line x1="331.00" y1="202.45" x2="331.00" y2="184.00" stroke="#63b5da" stroke-width="0.7"/>
<line x1="331.00" y1="202.45" x2="331.00" y2="192.30" stroke="#2896c6" stroke-width="1.3"/>
<polygon points="334.70,209.30 334.70,194.72 335.20,194.22 335.20,195.92 335.70,195.42 335.70,193.24 336.20,192.74 336.20,190.00 336.70,189.50 336.70,189.50 337.20,189.00 337.20,194.45 337.70,193.95 337.70,193.55 338.20,193.05 338.20,189.10 338.70,188.60 338.70,188.60 339.20,188.10 339.20,192.71 339.70,192.21 339.70,194.42 340.20,193.92 340.20,196.78 340.70,196.28 340.70,181.00 341.20,180.50 341.20,180.50 341.70,180.00 341.70,195.60 342.20,195.10 342.20,201.80" fill="#acd2f2" fill-opacity="0.8" stroke="none"/>
<line x1="335.45" y1="208.55" x2="335.45" y2="200.00" stroke="#2a86c6" stroke-width="0.8" stroke-opacity="0.6"/>
<line x1="336.45" y1="207.55" x2="336.45" y2="195.32" stroke="#2a86c6" stroke-width="0.8" stroke-opacity="0.6"/>
<line x1="337.45" y1="206.55" x2="337.45" y2="194.89" stroke="#2a86c6" stroke-width="0.8" stroke-opacity="0.6"/>
<line x1="338.45" y1="205.55" x2="338.45" y2="193.22" stroke="#2a86c6" stroke-width="0.8" stroke-opacity="0.6"/>
<line x1="339.45" y1="204.55" x2="339.45" y2="196.43" stroke="#2a86c6" stroke-width="0.8" stroke-opacity="0.6"/>
<line x1="340.45" y1="203.55" x2="340.45" y2="196.05" stroke="#2a86c6" stroke-width="0.8" stroke-opacity="0.6"/>
<line x1="341.45" y1="202.55" x2="341.45" y2="182.18" stroke="#2a86c6" stroke-width="0.8" stroke-opacity="0.6"/>
<line x1="336.60" y1="207.40" x2="336.60" y2="189.60" stroke="#64a8da" stroke-width="0.7"/>
<line x1="336.60" y1="207.40" x2="336.60" y2="197.61" stroke="#2a86c6" stroke-width="1.3"/>
<line x1="338.80" y1="205.20" x2="338.80" y2="188.50" stroke="#64a8da" stroke-width="0.7"/>
<line x1="338.80" y1="205.20" x2="338.80" y2="196.01" stroke="#2a86c6" stroke-width="1.3"/>
<line x1="341.00" y1="203.00" x2="341.00" y2="180.70" stroke="#64a8da" stroke-width="0.7"/>
<line x1="341.00" y1="203.00" x2="341.00" y2="190.73" stroke="#2a86c6" stroke-width="1.3"/>
<polygon points="345.25,209.30 345.25,194.91 345.75,194.41 345.75,192.71 346.25,192.21 346.25,188.95 346.75,188.45 346.75,188.45 347.25,187.95 347.25,191.81 347.75,191.31 347.75,194.76 348.25,194.26 348.25,193.10 348.75,192.60 348.75,193.56 349.25,193.06 349.25,184.75 349.75,184.25 349.75,184.25 350.25,183.75 350.25,183.75 350.75,183.25 350.75,193.28 351.25,192.78 351.25,180.05 351.75,179.55 351.75,179.55 352.25,179.05 352.25,190.00 352.75,189.50 352.75,201.80" fill="#b2cef2" fill-opacity="0.8" stroke="none"/>
<line x1="346.00" y1="208.55" x2="346.00" y2="198.99" stroke="#2e76c0" stroke-width="0.8" stroke-opacity="0.6"/>
<line x1="347.00" y1="207.55" x2="347.00" y2="189.34" stroke="#2e76c0" stroke-width="0.8" stroke-opacity="0.6"/>
<line x1="348.00" y1="206.55" x2="348.00" y2="196.79" stroke="#2e76c0" stroke-width="0.8" stroke-opacity="0.6"/>
<line x1="349.00" y1="205.55" x2="349.00" y2="195.13" stroke="#2e76c0" stroke-width="0.8" stroke-opacity="0.6"/>
<line x1="350.00" y1="204.55" x2="350.00" y2="186.80" stroke="#2e76c0" stroke-width="0.8" stroke-opacity="0.6"/>
<line x1="351.00" y1="203.55" x2="351.00" y2="193.17" stroke="#2e76c0" stroke-width="0.8" stroke-opacity="0.6"/>
<line x1="352.00" y1="202.55" x2="352.00" y2="185.44" stroke="#2e76c0" stroke-width="0.8" stroke-opacity="0.6"/>
<line x1="346.70" y1="207.85" x2="346.70" y2="188.50" stroke="#699ed6" stroke-width="0.7"/>
<line x1="346.70" y1="207.85" x2="346.70" y2="197.21" stroke="#2e76c0" stroke-width="1.3"/>
<line x1="350.00" y1="204.55" x2="350.00" y2="184.00" stroke="#699ed6" stroke-width="0.7"/>
<line x1="350.00" y1="204.55" x2="350.00" y2="193.25" stroke="#2e76c0" stroke-width="1.3"/>
<line x1="351.80" y1="202.75" x2="351.80" y2="179.50" stroke="#699ed6" stroke-width="0.7"/>
<line x1="351.80" y1="202.75" x2="351.80" y2="189.96" stroke="#2e76c0" stroke-width="1.3"/>
<polygon points="355.80,209.30 355.80,195.86 356.30,195.36 356.30,193.40 356.80,192.90 356.80,192.90 357.30,192.40 357.30,194.77 357.80,194.27 357.80,194.54 358.30,194.04 358.30,190.30 358.80,189.80 358.80,189.80 359.30,189.30 359.30,195.53 359.80,195.03 359.80,194.36 360.30,193.86 360.30,183.60 360.80,183.10 360.80,183.10 361.30,182.60 361.30,193.36 361.80,192.86 361.80,195.49 362.30,194.99 362.30,194.06 362.80,193.56 362.80,193.82 363.30,193.32 363.30,201.80" fill="#c4c6f2" fill-opacity="0.8" stroke="none"/>
<line x1="356.55" y1="208.55" x2="356.55" y2="197.48" stroke="#4e5ec0" stroke-width="0.8" stroke-opacity="0.6"/>
<line x1="357.55" y1="207.55" x2="357.55" y2="195.01" stroke="#4e5ec0" stroke-width="0.8" stroke-opacity="0.6"/>
<line x1="358.55" y1="206.55" x2="358.55" y2="193.96" stroke="#4e5ec0" stroke-width="0.8" stroke-opacity="0.6"/>
<line x1="359.55" y1="205.55" x2="359.55" y2="196.93" stroke="#4e5ec0" stroke-width="0.8" stroke-opacity="0.6"/>
<line x1="360.55" y1="204.55" x2="360.55" y2="189.80" stroke="#4e5ec0" stroke-width="0.8" stroke-opacity="0.6"/>
<line x1="361.55" y1="203.55" x2="361.55" y2="194.79" stroke="#4e5ec0" stroke-width="0.8" stroke-opacity="0.6"/>
<line x1="362.55" y1="202.55" x2="362.55" y2="193.20" stroke="#4e5ec0" stroke-width="0.8" stroke-opacity="0.6"/>
<line x1="356.70" y1="208.40" x2="356.70" y2="193.00" stroke="#838dd6" stroke-width="0.7"/>
<line x1="356.70" y1="208.40" x2="356.70" y2="199.93" stroke="#4e5ec0" stroke-width="1.3"/>
<line x1="359.00" y1="206.10" x2="359.00" y2="189.60" stroke="#838dd6" stroke-width="0.7"/>
<line x1="359.00" y1="206.10" x2="359.00" y2="197.03" stroke="#4e5ec0" stroke-width="1.3"/>
<line x1="361.00" y1="204.10" x2="361.00" y2="182.90" stroke="#838dd6" stroke-width="0.7"/>
<line x1="361.00" y1="204.10" x2="361.00" y2="192.44" stroke="#4e5ec0" stroke-width="1.3"/>
<polygon points="366.35,209.30 366.35,192.48 366.85,191.98 366.85,194.10 367.35,193.60 367.35,190.05 367.85,189.55 367.85,189.55 368.35,189.05 368.35,192.58 368.85,192.08 368.85,195.55 369.35,195.05 369.35,191.32 369.85,190.82 369.85,195.50 370.35,195.00 370.35,186.75 370.85,186.25 370.85,186.25 371.35,185.75 371.35,191.14 371.85,190.64 371.85,191.80 372.35,191.30 372.35,183.55 372.85,183.05 372.85,183.05 373.35,182.55 373.35,192.27 373.85,191.77 373.85,201.80" fill="#dec4f2" fill-opacity="0.8" stroke="none"/>
<line x1="367.10" y1="208.55" x2="367.10" y2="195.47" stroke="#9046c8" stroke-width="0.8" stroke-opacity="0.6"/>
<line x1="368.10" y1="207.55" x2="368.10" y2="195.20" stroke="#9046c8" stroke-width="0.8" stroke-opacity="0.6"/>
<line x1="369.10" y1="206.55" x2="369.10" y2="196.38" stroke="#9046c8" stroke-width="0.8" stroke-opacity="0.6"/>
<line x1="370.10" y1="205.55" x2="370.10" y2="197.12" stroke="#9046c8" stroke-width="0.8" stroke-opacity="0.6"/>
<line x1="371.10" y1="204.55" x2="371.10" y2="187.66" stroke="#9046c8" stroke-width="0.8" stroke-opacity="0.6"/>
<line x1="372.10" y1="203.55" x2="372.10" y2="195.76" stroke="#9046c8" stroke-width="0.8" stroke-opacity="0.6"/>
<line x1="373.10" y1="202.55" x2="373.10" y2="189.51" stroke="#9046c8" stroke-width="0.8" stroke-opacity="0.6"/>
<line x1="367.80" y1="207.85" x2="367.80" y2="189.60" stroke="#b37fdb" stroke-width="0.7"/>
<line x1="367.80" y1="207.85" x2="367.80" y2="197.81" stroke="#9046c8" stroke-width="1.3"/>
<line x1="370.80" y1="204.85" x2="370.80" y2="186.30" stroke="#b37fdb" stroke-width="0.7"/>
<line x1="370.80" y1="204.85" x2="370.80" y2="194.65" stroke="#9046c8" stroke-width="1.3"/>
<line x1="373.00" y1="202.65" x2="373.00" y2="182.90" stroke="#b37fdb" stroke-width="0.7"/>
<line x1="373.00" y1="202.65" x2="373.00" y2="191.79" stroke="#9046c8" stroke-width="1.3"/>
<polygon points="376.90,209.30 376.90,197.77 377.40,197.27 377.40,193.38 377.90,192.88 377.90,194.10 378.40,193.60 378.40,196.11 378.90,195.61 378.90,195.14 379.40,194.64 379.40,195.84 379.90,195.34 379.90,188.80 380.40,188.30 380.40,188.30 380.90,187.80 380.90,193.28 381.40,192.78 381.40,197.75 381.90,197.25 381.90,190.10 382.40,189.60 382.40,189.60 382.90,189.10 382.90,195.72 383.40,195.22 383.40,196.01 383.90,195.51 383.90,193.26 384.40,192.76 384.40,201.80" fill="#f2c4d6" fill-opacity="0.8" stroke="none"/>
<line x1="377.65" y1="208.55" x2="377.65" y2="192.89" stroke="#c84686" stroke-width="0.8" stroke-opacity="0.6"/>
<line x1="378.65" y1="207.55" x2="378.65" y2="198.01" stroke="#c84686" stroke-width="0.8" stroke-opacity="0.6"/>
<line x1="379.65" y1="206.55" x2="379.65" y2="197.86" stroke="#c84686" stroke-width="0.8" stroke-opacity="0.6"/>
<line x1="380.65" y1="205.55" x2="380.65" y2="194.50" stroke="#c84686" stroke-width="0.8" stroke-opacity="0.6"/>
<line x1="381.65" y1="204.55" x2="381.65" y2="197.89" stroke="#c84686" stroke-width="0.8" stroke-opacity="0.6"/>
<line x1="382.65" y1="203.55" x2="382.65" y2="193.77" stroke="#c84686" stroke-width="0.8" stroke-opacity="0.6"/>
<line x1="383.65" y1="202.55" x2="383.65" y2="197.67" stroke="#c84686" stroke-width="0.8" stroke-opacity="0.6"/>
<line x1="377.90" y1="208.30" x2="377.90" y2="194.10" stroke="#db7faa" stroke-width="0.7"/>
<line x1="377.90" y1="208.30" x2="377.90" y2="200.49" stroke="#c84686" stroke-width="1.3"/>
<line x1="380.20" y1="206.00" x2="380.20" y2="188.50" stroke="#db7faa" stroke-width="0.7"/>
<line x1="380.20" y1="206.00" x2="380.20" y2="196.38" stroke="#c84686" stroke-width="1.3"/>
<line x1="382.40" y1="203.80" x2="382.40" y2="189.60" stroke="#db7faa" stroke-width="0.7"/>
<line x1="382.40" y1="203.80" x2="382.40" y2="195.99" stroke="#c84686" stroke-width="1.3"/>
<polygon points="387.45,209.30 387.45,195.67 387.95,195.17 387.95,192.33 388.45,191.83 388.45,179.05 388.95,178.55 388.95,178.55 389.45,178.05 389.45,191.40 389.95,190.90 389.95,192.72 390.45,192.22 390.45,192.08 390.95,191.58 390.95,188.95 391.45,188.45 391.45,188.45 391.95,187.95 391.95,191.47 392.45,190.97 392.45,192.61 392.95,192.11 392.95,188.05 393.45,187.55 393.45,187.55 393.95,187.05 393.95,190.93 394.45,190.43 394.45,195.69 394.95,195.19 394.95,201.80" fill="#f8c4b4" fill-opacity="0.8" stroke="none"/>
<line x1="388.20" y1="208.55" x2="388.20" y2="194.23" stroke="#d84836" stroke-width="0.8" stroke-opacity="0.6"/>
<line x1="389.20" y1="207.55" x2="389.20" y2="180.85" stroke="#d84836" stroke-width="0.8" stroke-opacity="0.6"/>
<line x1="390.20" y1="206.55" x2="390.20" y2="197.66" stroke="#d84836" stroke-width="0.8" stroke-opacity="0.6"/>
<line x1="391.20" y1="205.55" x2="391.20" y2="193.38" stroke="#d84836" stroke-width="0.8" stroke-opacity="0.6"/>
<line x1="392.20" y1="204.55" x2="392.20" y2="192.32" stroke="#d84836" stroke-width="0.8" stroke-opacity="0.6"/>
<line x1="393.20" y1="203.55" x2="393.20" y2="193.10" stroke="#d84836" stroke-width="0.8" stroke-opacity="0.6"/>
<line x1="394.20" y1="202.55" x2="394.20" y2="190.86" stroke="#d84836" stroke-width="0.8" stroke-opacity="0.6"/>
<line x1="389.10" y1="207.65" x2="389.10" y2="178.40" stroke="#e6806f" stroke-width="0.7"/>
<line x1="389.10" y1="207.65" x2="389.10" y2="191.56" stroke="#d84836" stroke-width="1.3"/>
<line x1="391.40" y1="205.35" x2="391.40" y2="188.50" stroke="#e6806f" stroke-width="0.7"/>
<line x1="391.40" y1="205.35" x2="391.40" y2="196.08" stroke="#d84836" stroke-width="1.3"/>
<line x1="393.60" y1="203.15" x2="393.60" y2="187.40" stroke="#e6806f" stroke-width="0.7"/>
<line x1="393.60" y1="203.15" x2="393.60" y2="194.49" stroke="#d84836" stroke-width="1.3"/>
<polygon points="398.00,209.30 398.00,195.52 398.50,195.02 398.50,193.70 399.00,193.20 399.00,193.20 399.50,192.70 399.50,195.76 400.00,195.26 400.00,197.23 400.50,196.73 400.50,196.13 401.00,195.63 401.00,194.80 401.50,194.30 401.50,196.02 402.00,195.52 402.00,190.20 402.50,189.70 402.50,189.70 403.00,189.20 403.00,195.12 403.50,194.62 403.50,193.08 404.00,192.58 404.00,196.29 404.50,195.79 404.50,187.70 405.00,187.20 405.00,187.20 405.50,186.70 405.50,201.80" fill="#f8cca4" fill-opacity="0.8" stroke="none"/>
<line x1="398.75" y1="208.55" x2="398.75" y2="195.67" stroke="#e66a1e" stroke-width="0.8" stroke-opacity="0.6"/>
<line x1="399.75" y1="207.55" x2="399.75" y2="198.63" stroke="#e66a1e" stroke-width="0.8" stroke-opacity="0.6"/>
<line x1="400.75" y1="206.55" x2="400.75" y2="197.99" stroke="#e66a1e" stroke-width="0.8" stroke-opacity="0.6"/>
<line x1="401.75" y1="205.55" x2="401.75" y2="195.61" stroke="#e66a1e" stroke-width="0.8" stroke-opacity="0.6"/>
<line x1="402.75" y1="204.55" x2="402.75" y2="193.13" stroke="#e66a1e" stroke-width="0.8" stroke-opacity="0.6"/>
<line x1="403.75" y1="203.55" x2="403.75" y2="193.73" stroke="#e66a1e" stroke-width="0.8" stroke-opacity="0.6"/>
<line x1="404.75" y1="202.55" x2="404.75" y2="189.66" stroke="#e66a1e" stroke-width="0.8" stroke-opacity="0.6"/>
<line x1="399.20" y1="208.10" x2="399.20" y2="193.00" stroke="#ee965a" stroke-width="0.7"/>
<line x1="399.20" y1="208.10" x2="399.20" y2="199.80" stroke="#e66a1e" stroke-width="1.3"/>
<line x1="402.60" y1="204.70" x2="402.60" y2="189.60" stroke="#ee965a" stroke-width="0.7"/>
<line x1="402.60" y1="204.70" x2="402.60" y2="196.39" stroke="#e66a1e" stroke-width="1.3"/>
<line x1="404.80" y1="202.50" x2="404.80" y2="187.40" stroke="#ee965a" stroke-width="0.7"/>
<line x1="404.80" y1="202.50" x2="404.80" y2="194.19" stroke="#e66a1e" stroke-width="1.3"/>
<polygon points="408.55,209.30 408.55,194.67 409.05,194.17 409.05,197.73 409.55,197.23 409.55,197.83 410.05,197.33 410.05,195.55 410.55,195.05 410.55,195.05 411.05,194.55 411.05,194.71 411.55,194.21 411.55,195.09 412.05,194.59 412.05,189.15 412.55,188.65 412.55,188.65 413.05,188.15 413.05,195.11 413.55,194.61 413.55,194.58 414.05,194.08 414.05,194.97 414.55,194.47 414.55,185.55 415.05,185.05 415.05,185.05 415.55,184.55 415.55,194.49 416.05,193.99 416.05,201.80" fill="#fad6a4" fill-opacity="0.8" stroke="none"/>
<line x1="409.30" y1="208.55" x2="409.30" y2="198.83" stroke="#f08c1e" stroke-width="0.8" stroke-opacity="0.6"/>
<line x1="410.30" y1="207.55" x2="410.30" y2="196.51" stroke="#f08c1e" stroke-width="0.8" stroke-opacity="0.6"/>
<line x1="411.30" y1="206.55" x2="411.30" y2="196.77" stroke="#f08c1e" stroke-width="0.8" stroke-opacity="0.6"/>
<line x1="412.30" y1="205.55" x2="412.30" y2="194.26" stroke="#f08c1e" stroke-width="0.8" stroke-opacity="0.6"/>
<line x1="413.30" y1="204.55" x2="413.30" y2="197.45" stroke="#f08c1e" stroke-width="0.8" stroke-opacity="0.6"/>
<line x1="414.30" y1="203.55" x2="414.30" y2="195.02" stroke="#f08c1e" stroke-width="0.8" stroke-opacity="0.6"/>
<line x1="415.30" y1="202.55" x2="415.30" y2="186.13" stroke="#f08c1e" stroke-width="0.8" stroke-opacity="0.6"/>
<line x1="410.40" y1="207.45" x2="410.40" y2="195.20" stroke="#f4ad5a" stroke-width="0.7"/>
<line x1="410.40" y1="207.45" x2="410.40" y2="200.71" stroke="#f08c1e" stroke-width="1.3"/>
<line x1="412.70" y1="205.15" x2="412.70" y2="188.50" stroke="#f4ad5a" stroke-width="0.7"/>
<line x1="412.70" y1="205.15" x2="412.70" y2="195.99" stroke="#f08c1e" stroke-width="1.3"/>
<line x1="415.00" y1="202.85" x2="415.00" y2="185.10" stroke="#f4ad5a" stroke-width="0.7"/>
<line x1="415.00" y1="202.85" x2="415.00" y2="193.09" stroke="#f08c1e" stroke-width="1.3"/>
<polygon points="419.10,209.30 419.10,185.40 419.60,184.90 419.60,184.90 420.10,184.40 420.10,191.72 420.60,191.22 420.60,192.85 421.10,192.35 421.10,188.00 421.60,187.50 421.60,187.50 422.10,187.00 422.10,192.80 422.60,192.30 422.60,194.79 423.10,194.29 423.10,192.24 423.60,191.74 423.60,193.94 424.10,193.44 424.10,193.74 424.60,193.24 424.60,192.30 425.10,191.80 425.10,191.80 425.60,191.30 425.60,190.76 426.10,190.26 426.10,195.22 426.60,194.72 426.60,201.80" fill="#fce6ac" fill-opacity="0.8" stroke="none"/>
<line x1="419.85" y1="208.55" x2="419.85" y2="186.84" stroke="#f4ae2c" stroke-width="0.8" stroke-opacity="0.6"/>
<line x1="420.85" y1="207.55" x2="420.85" y2="197.66" stroke="#f4ae2c" stroke-width="0.8" stroke-opacity="0.6"/>
<line x1="421.85" y1="206.55" x2="421.85" y2="190.38" stroke="#f4ae2c" stroke-width="0.8" stroke-opacity="0.6"/>
<line x1="422.85" y1="205.55" x2="422.85" y2="197.15" stroke="#f4ae2c" stroke-width="0.8" stroke-opacity="0.6"/>
<line x1="423.85" y1="204.55" x2="423.85" y2="195.41" stroke="#f4ae2c" stroke-width="0.8" stroke-opacity="0.6"/>
<line x1="424.85" y1="203.55" x2="424.85" y2="196.46" stroke="#f4ae2c" stroke-width="0.8" stroke-opacity="0.6"/>
<line x1="425.85" y1="202.55" x2="425.85" y2="195.09" stroke="#f4ae2c" stroke-width="0.8" stroke-opacity="0.6"/>
<line x1="419.40" y1="209.00" x2="419.40" y2="185.10" stroke="#f8c766" stroke-width="0.7"/>
<line x1="419.40" y1="209.00" x2="419.40" y2="195.86" stroke="#f4ae2c" stroke-width="1.3"/>
<line x1="421.70" y1="206.70" x2="421.70" y2="187.40" stroke="#f8c766" stroke-width="0.7"/>
<line x1="421.70" y1="206.70" x2="421.70" y2="196.09" stroke="#f4ae2c" stroke-width="1.3"/>
<line x1="425.00" y1="203.40" x2="425.00" y2="191.90" stroke="#f8c766" stroke-width="0.7"/>
<line x1="425.00" y1="203.40" x2="425.00" y2="197.08" stroke="#f4ae2c" stroke-width="1.3"/>
<line x1="288.5" y1="203.0" x2="437.0" y2="203.0" stroke="#555" stroke-width="0.8" stroke-opacity="0.2"/>
<line x1="281.0" y1="210.5" x2="429.5" y2="210.5" stroke="#aaa" stroke-width="1"/>
<line x1="281.0" y1="210.5" x2="281.0" y2="164.3" stroke="#555" stroke-width="1"/>
<line x1="281.0" y1="210.5" x2="284.0" y2="210.5" stroke="#555" stroke-width="1"/>
<line x1="281.0" y1="187.4" x2="284.0" y2="187.4" stroke="#555" stroke-width="1"/>
<line x1="281.0" y1="164.3" x2="284.0" y2="164.3" stroke="#555" stroke-width="1"/>
<line x1="281.00" y1="210.50" x2="284.60" y2="210.50" stroke="#000" stroke-width="0.8"/>
<line x1="429.50" y1="210.50" x2="424.70" y2="210.50" stroke="#000" stroke-width="0.8"/>
<line x1="282.13" y1="209.37" x2="285.73" y2="209.37" stroke="#000" stroke-width="0.8"/>
<line x1="430.63" y1="209.37" x2="425.83" y2="209.37" stroke="#000" stroke-width="0.8"/>
<line x1="282.79" y1="208.71" x2="286.39" y2="208.71" stroke="#000" stroke-width="0.8"/>
<line x1="431.29" y1="208.71" x2="426.49" y2="208.71" stroke="#000" stroke-width="0.8"/>
<line x1="283.26" y1="208.24" x2="286.86" y2="208.24" stroke="#000" stroke-width="0.8"/>
<line x1="431.76" y1="208.24" x2="426.96" y2="208.24" stroke="#000" stroke-width="0.8"/>
<line x1="283.62" y1="207.88" x2="287.22" y2="207.88" stroke="#000" stroke-width="0.8"/>
<line x1="432.12" y1="207.88" x2="427.32" y2="207.88" stroke="#000" stroke-width="0.8"/>
<line x1="283.92" y1="207.58" x2="287.52" y2="207.58" stroke="#000" stroke-width="0.8"/>
<line x1="432.42" y1="207.58" x2="427.62" y2="207.58" stroke="#000" stroke-width="0.8"/>
<line x1="284.17" y1="207.33" x2="287.77" y2="207.33" stroke="#000" stroke-width="0.8"/>
<line x1="432.67" y1="207.33" x2="427.87" y2="207.33" stroke="#000" stroke-width="0.8"/>
<line x1="284.39" y1="207.11" x2="287.99" y2="207.11" stroke="#000" stroke-width="0.8"/>
<line x1="432.89" y1="207.11" x2="428.09" y2="207.11" stroke="#000" stroke-width="0.8"/>
<line x1="284.58" y1="206.92" x2="288.18" y2="206.92" stroke="#000" stroke-width="0.8"/>
<line x1="433.08" y1="206.92" x2="428.28" y2="206.92" stroke="#000" stroke-width="0.8"/>
<line x1="284.75" y1="206.75" x2="288.35" y2="206.75" stroke="#000" stroke-width="0.8"/>
<line x1="433.25" y1="206.75" x2="428.45" y2="206.75" stroke="#000" stroke-width="0.8"/>
<line x1="285.88" y1="205.62" x2="289.48" y2="205.62" stroke="#000" stroke-width="0.8"/>
<line x1="434.38" y1="205.62" x2="429.58" y2="205.62" stroke="#000" stroke-width="0.8"/>
<line x1="286.54" y1="204.96" x2="290.14" y2="204.96" stroke="#000" stroke-width="0.8"/>
<line x1="435.04" y1="204.96" x2="430.24" y2="204.96" stroke="#000" stroke-width="0.8"/>
<line x1="287.01" y1="204.49" x2="290.61" y2="204.49" stroke="#000" stroke-width="0.8"/>
<line x1="435.51" y1="204.49" x2="430.71" y2="204.49" stroke="#000" stroke-width="0.8"/>
<line x1="287.37" y1="204.13" x2="290.97" y2="204.13" stroke="#000" stroke-width="0.8"/>
<line x1="435.87" y1="204.13" x2="431.07" y2="204.13" stroke="#000" stroke-width="0.8"/>
<line x1="287.67" y1="203.83" x2="291.27" y2="203.83" stroke="#000" stroke-width="0.8"/>
<line x1="436.17" y1="203.83" x2="431.37" y2="203.83" stroke="#000" stroke-width="0.8"/>
<line x1="287.92" y1="203.58" x2="291.52" y2="203.58" stroke="#000" stroke-width="0.8"/>
<line x1="436.42" y1="203.58" x2="431.62" y2="203.58" stroke="#000" stroke-width="0.8"/>
<line x1="288.14" y1="203.36" x2="291.74" y2="203.36" stroke="#000" stroke-width="0.8"/>
<line x1="436.64" y1="203.36" x2="431.84" y2="203.36" stroke="#000" stroke-width="0.8"/>
<line x1="288.33" y1="203.17" x2="291.93" y2="203.17" stroke="#000" stroke-width="0.8"/>
<line x1="436.83" y1="203.17" x2="432.03" y2="203.17" stroke="#000" stroke-width="0.8"/>
<line x1="288.50" y1="203.00" x2="292.10" y2="203.00" stroke="#000" stroke-width="0.8"/>
<line x1="437.00" y1="203.00" x2="432.20" y2="203.00" stroke="#000" stroke-width="0.8"/>
<text class="t" x="275.9" y="214.2" text-anchor="end" font-size="11.8" letter-spacing="0.4">0</text>
<text class="t" x="275.9" y="191.1" text-anchor="end" font-size="11.8" letter-spacing="0.4">2.5</text>
<text class="t" x="275.9" y="168.0" text-anchor="end" font-size="11.8" letter-spacing="0.4">5</text>
<text class="t" x="298.2" y="228.0" text-anchor="middle" font-size="11.6" letter-spacing="0.7">30</text>
<text class="t" x="319.3" y="228.0" text-anchor="middle" font-size="11.6" letter-spacing="0.7">40</text>
<text class="t" x="340.4" y="228.0" text-anchor="middle" font-size="11.6" letter-spacing="0.7">50</text>
<text class="t" x="361.5" y="228.0" text-anchor="middle" font-size="11.6" letter-spacing="0.7">60</text>
<text class="t" x="382.59999999999997" y="228.0" text-anchor="middle" font-size="11.6" letter-spacing="0.7">70</text>
<text class="t" x="403.7" y="228.0" text-anchor="middle" font-size="11.6" letter-spacing="0.7">80</text>
<text class="t" x="424.8" y="228.0" text-anchor="middle" font-size="11.6" letter-spacing="0.7">90</text>
<text class="s" x="431.50" y="212.90" font-size="5.6">0.1</text>
<text class="s" x="435.55" y="209.00" font-size="5.6">1</text>
<text class="s" x="439.60" y="205.10" font-size="5.6">10</text>
<text class="t" x="0.0" y="11.2" font-size="15.4" letter-spacing="0.35">130LC5g</text>
<text class="t" x="228.5" y="11.2" font-size="15.4" letter-spacing="0.35">130LC5r</text>
<text class="t" x="-0.6" y="128.9" font-size="15.4" letter-spacing="0.35">90LC5g</text>
<text class="t" x="228.0" y="129.0" font-size="15.4" letter-spacing="0.35">90LC5r</text>
<text class="t" transform="translate(35.0,242.7) rotate(-90)" font-size="11.6" letter-spacing="0.6">10<tspan font-size="7.2" dy="-7.3">17</tspan><tspan dy="7.3"> PSD (A</tspan><tspan font-size="7.2" dy="-7.3">2</tspan><tspan dy="7.3">Hz</tspan><tspan font-size="7.2" dy="-7.3">-1</tspan><tspan dy="7.3">)</tspan></text>
<text class="t" x="137.5" y="247" text-anchor="middle" font-size="12.2" letter-spacing="0">temp. (°C)</text>
<text class="v" transform="translate(229.2,220.0) rotate(-56)" font-size="8.4" letter-spacing="0">Voltage(V)</text>
</svg>
</body></html>
